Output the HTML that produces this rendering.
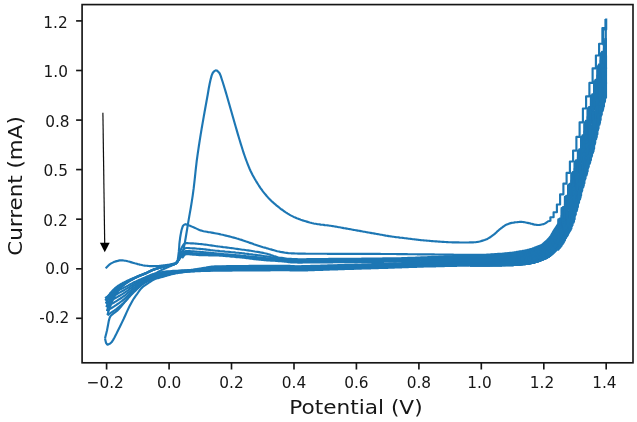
<!DOCTYPE html>
<html><head><meta charset="utf-8"><title>CV plot</title>
<style>
html,body{margin:0;padding:0;background:#fff;}
body{width:637px;height:422px;overflow:hidden;}
svg{display:block;}
text{font-family:"DejaVu Sans","Liberation Sans",sans-serif;fill:#151515;}
.tl text{font-size:16.7px;}
.al{font-size:20px;}
</style></head><body>
<svg width="637" height="422" viewBox="0 0 637 422">
<rect width="637" height="422" fill="#fff"/>
<defs><filter id="soft" x="-2%" y="-2%" width="104%" height="104%"><feGaussianBlur stdDeviation="0.42"/></filter></defs>
<g filter="url(#soft)">
<g fill="none" stroke="#1f77b4" stroke-width="2.15" stroke-linejoin="round" stroke-linecap="butt">
<path d="M105.7,268.4 L106.7,267.3 L107.7,266.3 L108.7,265.3 L109.7,264.4 L110.7,263.7 L111.7,263.1 L112.7,262.6 L113.7,262.1 L114.7,261.7 L115.7,261.4 L116.7,261.1 L117.7,260.9 L118.7,260.6 L119.7,260.4 L120.7,260.3 L121.7,260.3 L122.7,260.4 L123.7,260.5 L124.7,260.7 L125.7,260.8 L126.7,261.0 L127.7,261.3 L128.7,261.5 L129.7,261.8 L130.7,262.1 L131.7,262.4 L132.7,262.7 L133.7,263.0 L134.7,263.3 L135.7,263.5 L136.7,263.8 L137.7,264.1 L138.7,264.3 L139.7,264.6 L140.7,264.8 L141.7,265.0 L142.7,265.3 L143.7,265.5 L144.7,265.6 L145.7,265.7 L146.7,265.8 L147.7,265.9 L148.7,266.0 L149.7,266.1 L150.7,266.1 L151.7,266.1 L152.7,266.1 L153.7,266.1 L154.7,266.1 L155.7,266.0 L156.7,266.0 L157.7,266.0 L158.7,266.0 L159.7,265.9 L160.7,265.8 L161.7,265.6 L162.7,265.5 L163.7,265.3 L164.7,265.2 L165.7,265.1 L166.7,265.0 L167.7,264.8 L168.7,264.7 L169.7,264.5 L170.7,264.3 L171.7,264.1 L172.7,263.9 L173.7,263.6 L174.7,263.3 L175.7,262.9 L176.7,262.2 L177.7,261.3 L178.7,260.3 L179.7,258.9 L180.7,257.3 L181.7,255.3 L182.7,252.3 L183.7,248.3 L184.7,243.5 L185.7,237.8 L186.7,231.8 L187.7,225.6 L188.7,219.6 L189.7,213.9 L190.7,208.2 L191.7,202.1 L192.7,195.6 L193.7,188.2 L194.7,179.3 L195.7,169.8 L196.7,161.2 L197.7,153.9 L198.7,147.1 L199.7,140.6 L200.7,134.4 L201.7,128.4 L202.7,122.6 L203.7,116.9 L204.7,111.3 L205.7,105.8 L206.7,100.3 L207.7,94.7 L208.7,88.8 L209.7,83.5 L210.7,79.1 L211.7,75.4 L212.7,73.0 L213.7,71.8 L214.7,70.9 L215.7,70.4 L216.7,70.5 L217.7,71.2 L218.7,72.2 L219.7,73.5 L220.7,75.9 L221.7,79.0 L222.7,82.0 L223.7,85.2 L224.7,88.5 L225.7,91.9 L226.7,95.3 L227.7,98.8 L228.7,102.2 L229.7,105.7 L230.7,109.2 L231.7,112.7 L232.7,116.2 L233.7,119.7 L234.7,123.2 L235.7,126.7 L236.7,130.1 L237.7,133.6 L238.7,137.0 L239.7,140.3 L240.7,143.6 L241.7,146.8 L242.7,150.0 L243.7,153.1 L244.7,156.0 L245.7,158.8 L246.7,161.5 L247.7,164.1 L248.7,166.6 L249.7,169.0 L250.7,171.2 L251.7,173.2 L252.7,175.2 L253.7,177.0 L254.7,178.8 L255.7,180.5 L256.7,182.1 L257.7,183.7 L258.7,185.3 L259.7,186.8 L260.7,188.3 L261.7,189.7 L262.7,191.1 L263.7,192.4 L264.7,193.6 L265.7,194.8 L266.7,196.0 L267.7,197.1 L268.7,198.2 L269.7,199.2 L270.7,200.2 L271.7,201.2 L272.7,202.1 L273.7,203.0 L274.7,203.9 L275.7,204.7 L276.7,205.6 L277.7,206.4 L278.7,207.2 L279.7,208.0 L280.7,208.8 L281.7,209.5 L282.7,210.2 L283.7,211.0 L284.7,211.6 L285.7,212.3 L286.7,212.9 L287.7,213.6 L288.7,214.2 L289.7,214.8 L290.7,215.4 L291.7,215.9 L292.7,216.4 L293.7,216.9 L294.7,217.3 L295.7,217.7 L296.7,218.2 L297.7,218.5 L298.7,218.9 L299.7,219.3 L300.7,219.7 L301.7,220.0 L302.7,220.4 L303.7,220.7 L304.7,221.0 L305.7,221.3 L306.7,221.6 L307.7,221.9 L308.7,222.2 L309.7,222.5 L310.7,222.7 L311.7,223.0 L312.7,223.2 L313.7,223.5 L314.7,223.7 L315.7,223.8 L316.7,224.0 L317.7,224.2 L318.7,224.3 L319.7,224.4 L320.7,224.6 L321.7,224.7 L322.7,224.8 L323.7,224.9 L324.7,225.1 L325.7,225.2 L326.7,225.3 L327.7,225.4 L328.7,225.5 L329.7,225.7 L330.7,225.8 L331.7,226.0 L332.7,226.1 L333.7,226.3 L334.7,226.5 L335.7,226.6 L336.7,226.8 L337.7,227.0 L338.7,227.2 L339.7,227.3 L340.7,227.5 L341.7,227.7 L342.7,227.9 L343.7,228.1 L344.7,228.2 L345.7,228.4 L346.7,228.6 L347.7,228.8 L348.7,229.0 L349.7,229.1 L350.7,229.3 L351.7,229.5 L352.7,229.7 L353.7,229.9 L354.7,230.0 L355.7,230.2 L356.7,230.4 L357.7,230.6 L358.7,230.8 L359.7,230.9 L360.7,231.1 L361.7,231.3 L362.7,231.5 L363.7,231.7 L364.7,231.8 L365.7,232.0 L366.7,232.2 L367.7,232.4 L368.7,232.5 L369.7,232.7 L370.7,232.9 L371.7,233.1 L372.7,233.3 L373.7,233.4 L374.7,233.6 L375.7,233.8 L376.7,234.0 L377.7,234.1 L378.7,234.3 L379.7,234.5 L380.7,234.7 L381.7,234.8 L382.7,235.0 L383.7,235.2 L384.7,235.4 L385.7,235.6 L386.7,235.7 L387.7,235.9 L388.7,236.1 L389.7,236.3 L390.7,236.4 L391.7,236.5 L392.7,236.7 L393.7,236.8 L394.7,237.0 L395.7,237.1 L396.7,237.2 L397.7,237.3 L398.7,237.4 L399.7,237.6 L400.7,237.7 L401.7,237.8 L402.7,237.9 L403.7,238.0 L404.7,238.2 L405.7,238.3 L406.7,238.4 L407.7,238.5 L408.7,238.7 L409.7,238.8 L410.7,238.9 L411.7,239.0 L412.7,239.2 L413.7,239.3 L414.7,239.4 L415.7,239.5 L416.7,239.6 L417.7,239.8 L418.7,239.9 L419.7,240.0 L420.7,240.1 L421.7,240.2 L422.7,240.3 L423.7,240.4 L424.7,240.5 L425.7,240.5 L426.7,240.6 L427.7,240.7 L428.7,240.8 L429.7,240.9 L430.7,241.0 L431.7,241.1 L432.7,241.1 L433.7,241.2 L434.7,241.3 L435.7,241.3 L436.7,241.4 L437.7,241.5 L438.7,241.6 L439.7,241.6 L440.7,241.7 L441.7,241.8 L442.7,241.8 L443.7,241.9 L444.7,242.0 L445.7,242.0 L446.7,242.1 L447.7,242.1 L448.7,242.2 L449.7,242.2 L450.7,242.2 L451.7,242.3 L452.7,242.3 L453.7,242.3 L454.7,242.3 L455.7,242.4 L456.7,242.4 L457.7,242.4 L458.7,242.4 L459.7,242.5 L460.7,242.5 L461.7,242.5 L462.7,242.5 L463.7,242.5 L464.7,242.5 L465.7,242.5 L466.7,242.5 L467.7,242.5 L468.7,242.5 L469.7,242.4 L470.7,242.4 L471.7,242.4 L472.7,242.3 L473.7,242.3 L474.7,242.2 L475.7,242.2 L476.7,242.0 L477.7,241.9 L478.7,241.7 L479.7,241.5 L480.7,241.2 L481.7,240.9 L482.7,240.6 L483.7,240.3 L484.7,240.0 L485.7,239.6 L486.7,239.2 L487.7,238.7 L488.7,238.1 L489.7,237.5 L490.7,236.8 L491.7,236.1 L492.7,235.4 L493.7,234.7 L494.7,233.9 L495.7,233.0 L496.7,232.1 L497.7,231.1 L498.7,230.2 L499.7,229.3 L500.7,228.5 L501.7,227.8 L502.7,227.0 L503.7,226.3 L504.7,225.6 L505.7,225.0 L506.7,224.6 L507.7,224.2 L508.7,223.8 L509.7,223.4 L510.7,223.1 L511.7,222.9 L512.7,222.7 L513.7,222.6 L514.7,222.4 L515.7,222.3 L516.7,222.2 L517.7,222.1 L518.7,222.0 L519.7,221.9 L520.7,221.9 L521.7,221.9 L522.7,222.0 L523.7,222.1 L524.7,222.3 L525.7,222.5 L526.7,222.7 L527.7,222.9 L528.7,223.1 L529.7,223.3 L530.7,223.6 L531.7,223.8 L532.7,224.1 L533.7,224.4 L534.7,224.6 L535.7,224.8 L536.7,224.9 L537.7,225.0 L538.7,225.0 L539.7,224.9 L540.7,224.7 L541.7,224.5 L542.7,224.3 L543.7,224.1 L544.7,223.6 L545.7,223.0 L546.7,222.3 L547.7,221.5 L550.4,220.7 L550.4,217.2 L553.6,217.2 L553.6,212.2 L556.9,212.2 L556.9,204.5 L560.1,204.5 L560.1,194.3 L563.4,194.3 L563.4,183.6 L566.6,183.6 L566.6,172.9 L569.9,172.9 L569.9,161.5 L573.1,161.5 L573.1,150.6 L576.4,150.6 L576.4,136.9 L579.6,136.9 L579.6,122.3 L582.9,122.3 L582.9,108.5 L586.1,108.5 L586.1,96.4 L589.4,96.4 L589.4,82.9 L592.6,82.9 L592.6,68.3 L595.9,68.3 L595.9,55.5 L599.1,55.5 L599.1,43.7 L602.4,43.7 L602.4,28.1 L605.6,28.1 L605.6,19.0"/>
<path d="M105.0,338.4 L105.4,336.8 L105.8,335.3 L106.2,333.7 L106.6,332.1 L107.0,330.5 L107.3,328.9 L107.6,327.3 L107.9,325.7 L108.2,324.1 L108.5,322.5 L108.8,320.9 L109.2,319.4 L109.7,317.8 L110.4,316.3 L111.4,315.1 L112.7,314.1 L114.0,313.0 L115.3,312.1 L116.6,311.1 L117.8,310.1 L118.9,308.9 L120.0,307.7 L121.1,306.5 L122.1,305.2 L123.2,303.9 L124.2,302.7 L125.2,301.4 L126.3,300.2 L127.3,298.9 L128.3,297.6 L129.3,296.4 L130.3,295.1 L131.4,293.9 L132.5,292.7 L133.6,291.4 L134.6,290.2 L135.8,289.1 L136.9,287.9 L138.0,286.8 L139.2,285.6 L140.4,284.6 L141.7,283.5 L142.9,282.5 L144.2,281.4 L145.5,280.4 L146.7,279.4 L148.0,278.5 L149.4,277.5 L150.7,276.6 L152.1,275.7 L153.4,274.8 L154.8,273.9 L156.2,273.1 L157.6,272.2 L159.0,271.4 L160.4,270.7 L161.9,269.9 L163.3,269.2 L164.8,268.5 L166.3,267.9 L167.8,267.2 L169.3,266.6 L170.8,266.0 L172.2,265.3 L173.8,264.6 L175.2,263.9 L176.3,262.8 L177.1,261.3 L177.7,259.8 L178.0,258.3 L178.2,256.7 L178.4,255.1 L178.6,253.5 L178.8,251.9 L178.9,250.3 L179.1,248.6 L179.2,247.0 L179.3,245.3 L179.4,243.7 L179.6,242.0 L179.8,240.4 L180.0,238.8 L180.2,237.2 L180.5,235.5 L180.8,233.9 L181.1,232.3 L181.4,230.7 L181.8,229.2 L182.3,227.6 L182.9,226.0 L183.9,224.9 L185.4,224.2 L187.0,224.6 L188.5,225.2 L190.0,225.8 L191.5,226.4 L193.0,227.1 L194.5,227.7 L196.0,228.4 L197.5,229.1 L198.9,229.8 L200.5,230.4 L202.0,230.8 L203.5,231.2 L205.1,231.5 L206.7,231.8 L208.3,232.1 L210.0,232.3 L211.6,232.6 L213.2,232.9 L214.8,233.2 L216.4,233.5 L218.0,233.8 L219.6,234.1 L221.1,234.5 L222.7,234.8 L224.3,235.2 L225.9,235.6 L227.5,236.0 L229.1,236.4 L230.6,236.8 L232.2,237.2 L233.8,237.6 L235.3,238.0 L236.9,238.5 L238.5,238.9 L240.0,239.4 L241.6,239.9 L243.1,240.4 L244.6,240.9 L246.2,241.5 L247.7,242.0 L249.2,242.6 L250.8,243.1 L252.3,243.6 L253.8,244.2 L255.4,244.7 L256.9,245.2 L258.4,245.7 L260.0,246.2 L261.5,246.7 L263.1,247.2 L264.7,247.6 L266.2,248.1 L267.8,248.5 L269.3,249.0 L270.9,249.4 L272.5,249.9 L274.0,250.3 L275.6,250.7 L277.2,251.2 L278.8,251.5 L280.3,251.9 L281.9,252.1 L283.5,252.4 L285.1,252.7 L286.8,252.9 L288.4,253.1 L290.0,253.2 L291.0,253.3 L292.0,253.3 L293.0,253.4 L294.0,253.4 L295.0,253.5 L296.0,253.5 L297.0,253.5 L298.0,253.6 L299.0,253.6 L300.0,253.6 L301.0,253.6 L302.0,253.6 L303.0,253.6 L304.0,253.6 L305.0,253.6 L306.0,253.7 L307.0,253.7 L308.0,253.7 L309.0,253.7 L310.0,253.7 L311.0,253.7 L312.0,253.7 L313.0,253.7 L314.0,253.7 L315.0,253.7 L316.0,253.7 L317.0,253.7 L318.0,253.7 L319.0,253.7 L320.0,253.7 L321.0,253.7 L322.0,253.7 L323.0,253.7 L324.0,253.7 L325.0,253.7 L326.0,253.7 L327.0,253.8 L328.0,253.8 L329.0,253.8 L330.0,253.8 L331.0,253.8 L332.0,253.8 L333.0,253.8 L334.0,253.8 L335.0,253.8 L336.0,253.8 L337.0,253.8 L338.0,253.8 L339.0,253.8 L340.0,253.8 L341.0,253.8 L342.0,253.8 L343.0,253.8 L344.0,253.8 L345.0,253.8 L346.0,253.8 L347.0,253.8 L348.0,253.8 L349.0,253.8 L350.0,253.8 L351.0,253.8 L352.0,253.8 L353.0,253.8 L354.0,253.9 L355.0,253.9 L356.0,253.9 L357.0,253.9 L358.0,253.9 L359.0,253.9 L360.0,253.9 L361.0,253.9 L362.0,253.9 L363.0,253.9 L364.0,253.9 L365.0,253.9 L366.0,253.9 L367.0,253.9 L368.0,253.9 L369.0,253.9 L370.0,253.9 L371.0,253.9 L372.0,253.9 L373.0,253.9 L374.0,253.9 L375.0,253.9 L376.0,253.9 L377.0,253.9 L378.0,253.9 L379.0,253.9 L380.0,253.9 L381.0,254.0 L382.0,254.0 L383.0,254.0 L384.0,254.0 L385.0,254.0 L386.0,254.0 L387.0,254.0 L388.0,254.0 L389.0,254.0 L390.0,254.0 L391.0,254.0 L392.0,254.0 L393.0,254.0 L394.0,254.0 L395.0,254.0 L396.0,254.0 L397.0,254.1 L398.0,254.1 L399.0,254.1 L400.0,254.1 L401.0,254.1 L402.0,254.1 L403.0,254.1 L404.0,254.1 L405.0,254.1 L406.0,254.1 L407.0,254.1 L408.0,254.2 L409.0,254.2 L410.0,254.2 L411.0,254.2 L412.0,254.2 L413.0,254.2 L414.0,254.2 L415.0,254.2 L416.0,254.2 L417.0,254.3 L418.0,254.3 L419.0,254.3 L420.0,254.3 L421.0,254.3 L422.0,254.3 L423.0,254.3 L424.0,254.3 L425.0,254.3 L426.0,254.4 L427.0,254.4 L428.0,254.4 L429.0,254.4 L430.0,254.4 L431.0,254.4 L432.0,254.4 L433.0,254.4 L434.0,254.4 L435.0,254.5 L436.0,254.5 L437.0,254.5 L438.0,254.5 L439.0,254.5 L440.0,254.5 L441.0,254.5 L442.0,254.5 L443.0,254.5 L444.0,254.6 L445.0,254.6 L446.0,254.6 L447.0,254.6 L448.0,254.6 L449.0,254.6 L450.0,254.6 L451.0,254.6 L452.0,254.6 L453.0,254.6 L454.0,254.7 L455.0,254.7 L456.0,254.7 L457.0,254.7 L458.0,254.7 L459.0,254.7 L460.0,254.7 L461.0,254.7 L462.0,254.7 L463.0,254.7 L464.0,254.7 L465.0,254.7 L466.0,254.7 L467.0,254.7 L468.0,254.8 L469.0,254.8 L470.0,254.8 L471.0,254.8 L472.0,254.8 L473.0,254.8 L474.0,254.8 L475.0,254.8 L476.0,254.8 L477.0,254.8 L478.0,254.8 L479.0,254.8 L480.0,254.8 L481.0,254.8 L482.0,254.8 L483.0,254.8 L484.0,254.7 L485.0,254.7 L486.0,254.7 L487.0,254.6 L488.0,254.6 L489.0,254.5 L490.0,254.5 L491.0,254.4 L492.0,254.3 L493.0,254.3 L494.0,254.2 L495.0,254.1 L496.0,254.1 L497.0,254.0 L498.0,253.9 L499.0,253.9 L500.0,253.8 L501.0,253.7 L502.0,253.7 L503.0,253.6 L504.0,253.5 L505.0,253.4 L506.0,253.3 L507.0,253.2 L508.0,253.1 L509.0,253.0 L510.0,252.9 L511.0,252.8 L512.0,252.7 L513.0,252.5 L514.0,252.4 L515.0,252.2 L516.0,252.1 L517.0,251.9 L518.0,251.8 L519.0,251.6 L520.0,251.4 L521.0,251.2 L522.0,251.1 L523.0,250.9 L524.0,250.7 L525.0,250.5 L526.0,250.3 L527.0,250.1 L528.0,249.8 L529.0,249.6 L530.0,249.3 L531.0,249.0 L532.0,248.7 L533.0,248.3 L534.0,248.0 L535.0,247.6 L536.0,247.2 L537.0,246.8 L538.0,246.4 L539.0,246.1 L540.0,245.6 L541.0,245.2 L542.0,244.6 L543.0,243.9 L544.0,243.0 L545.0,242.1 L546.0,241.2 L547.0,240.3 L548.0,239.3 L549.0,238.3 L550.0,237.0 L551.0,235.6 L552.0,233.9 L553.0,232.1 L554.0,230.4 L555.0,228.9 L556.0,227.4 L557.0,225.9 L558.0,224.0 L558.4,226.2 L558.4,219.3 L561.6,219.3 L561.6,208.1 L564.9,208.1 L564.9,196.8 L568.1,196.8 L568.1,185.1 L571.4,185.1 L571.4,173.2 L574.6,173.2 L574.6,161.5 L577.9,161.5 L577.9,150.5 L581.1,150.5 L581.1,136.9 L584.4,136.9 L584.4,122.3 L587.6,122.3 L587.6,108.3 L590.9,108.3 L590.9,95.6 L594.1,95.6 L594.1,81.3 L597.4,81.3 L597.4,66.2 L600.6,66.2 L600.6,53.3 L603.9,53.3 L603.9,40.3"/>
<path d="M107.4,315.0 L107.8,313.7 L108.2,312.3 L108.6,311.0 L109.0,309.7 L109.5,308.4 L109.9,307.1 L110.4,305.8 L110.9,304.5 L111.4,303.2 L111.9,301.9 L112.5,300.6 L113.1,299.4 L113.7,298.1 L114.3,296.9 L115.0,295.7 L115.7,294.5 L116.4,293.3 L117.2,292.2 L118.0,291.0 L118.9,290.0 L119.8,288.9 L120.8,287.9 L121.7,286.9 L122.8,286.0 L123.8,285.1 L124.9,284.2 L126.0,283.4 L127.2,282.6 L128.3,281.8 L129.5,281.1 L130.7,280.4 L131.9,279.7 L133.1,279.0 L134.3,278.4 L135.5,277.7 L136.8,277.1 L138.0,276.5 L139.3,276.0 L140.6,275.4 L141.9,274.9 L143.2,274.4 L144.4,273.9 L145.7,273.3 L147.0,272.7 L148.2,272.1 L149.5,271.5 L150.7,270.9 L152.0,270.3 L153.2,269.8 L154.5,269.3 L155.8,268.9 L157.2,268.5 L158.5,268.1 L159.8,267.7 L161.2,267.3 L162.5,266.9 L163.9,266.6 L165.2,266.3 L166.5,265.9 L167.9,265.6 L169.3,265.4 L170.6,265.1 L172.0,264.7 L173.3,264.4 L174.7,264.0 L175.9,263.4 L176.9,262.5 L177.8,261.3 L178.3,260.1 L178.7,258.9 L179.0,257.5 L179.3,256.1 L179.5,254.7 L179.8,253.3 L180.1,251.9 L180.5,250.6 L181.0,249.3 L181.6,248.0 L182.2,246.8 L182.9,245.6 L183.7,244.4 L184.7,243.6 L186.1,243.1 L187.5,243.1 L188.8,243.2 L190.2,243.3 L191.6,243.3 L193.0,243.4 L194.4,243.5 L195.8,243.6 L197.1,243.7 L198.5,243.9 L199.9,244.0 L201.3,244.1 L202.7,244.3 L204.0,244.5 L205.4,244.6 L206.8,244.8 L208.1,245.0 L209.5,245.2 L210.9,245.4 L212.3,245.6 L213.6,245.8 L215.0,246.0 L216.4,246.2 L217.8,246.4 L219.1,246.5 L220.5,246.7 L221.9,246.9 L223.3,247.1 L224.6,247.2 L226.0,247.4 L227.4,247.6 L228.8,247.8 L230.1,248.0 L231.5,248.1 L232.9,248.3 L234.3,248.5 L235.6,248.7 L237.0,248.9 L238.4,249.1 L239.7,249.3 L241.1,249.5 L242.5,249.7 L243.9,249.8 L245.2,250.0 L246.6,250.2 L248.0,250.4 L249.4,250.6 L250.7,250.8 L252.1,251.0 L253.5,251.2 L254.9,251.5 L256.2,251.7 L257.6,251.9 L259.0,252.1 L260.3,252.4 L261.7,252.6 L263.0,252.9 L264.4,253.2 L265.7,253.5 L267.1,253.8 L268.4,254.2 L269.7,254.6 L271.0,255.1 L272.4,255.5 L273.7,256.0 L275.0,256.4 L276.3,256.8 L277.7,257.2 L279.0,257.5 L280.4,257.7 L281.7,257.9 L283.1,258.1 L284.5,258.3 L285.8,258.5 L287.2,258.7 L288.6,258.8 L290.0,258.9 L291.0,258.9 L292.0,259.0 L293.0,259.0 L294.0,259.1 L295.0,259.1 L296.0,259.1 L297.0,259.1 L298.0,259.2 L299.0,259.2 L300.0,259.2 L301.0,259.2 L302.0,259.2 L303.0,259.2 L304.0,259.2 L305.0,259.2 L306.0,259.2 L307.0,259.1 L308.0,259.1 L309.0,259.1 L310.0,259.1 L311.0,259.1 L312.0,259.1 L313.0,259.1 L314.0,259.1 L315.0,259.1 L316.0,259.1 L317.0,259.1 L318.0,259.1 L319.0,259.0 L320.0,259.0 L321.0,259.0 L322.0,259.0 L323.0,259.0 L324.0,259.0 L325.0,259.0 L326.0,259.0 L327.0,259.0 L328.0,259.0 L329.0,258.9 L330.0,258.9 L331.0,258.9 L332.0,258.9 L333.0,258.9 L334.0,258.9 L335.0,258.9 L336.0,258.9 L337.0,258.9 L338.0,258.9 L339.0,258.9 L340.0,258.8 L341.0,258.8 L342.0,258.8 L343.0,258.8 L344.0,258.8 L345.0,258.8 L346.0,258.8 L347.0,258.8 L348.0,258.8 L349.0,258.8 L350.0,258.8 L351.0,258.7 L352.0,258.7 L353.0,258.7 L354.0,258.7 L355.0,258.7 L356.0,258.7 L357.0,258.7 L358.0,258.7 L359.0,258.7 L360.0,258.7 L361.0,258.7 L362.0,258.6 L363.0,258.6 L364.0,258.6 L365.0,258.6 L366.0,258.6 L367.0,258.6 L368.0,258.6 L369.0,258.6 L370.0,258.6 L371.0,258.6 L372.0,258.5 L373.0,258.5 L374.0,258.5 L375.0,258.5 L376.0,258.5 L377.0,258.5 L378.0,258.5 L379.0,258.5 L380.0,258.5 L381.0,258.5 L382.0,258.5 L383.0,258.4 L384.0,258.4 L385.0,258.4 L386.0,258.4 L387.0,258.4 L388.0,258.4 L389.0,258.4 L390.0,258.4 L391.0,258.4 L392.0,258.4 L393.0,258.3 L394.0,258.3 L395.0,258.3 L396.0,258.3 L397.0,258.3 L398.0,258.2 L399.0,258.2 L400.0,258.2 L401.0,258.2 L402.0,258.1 L403.0,258.1 L404.0,258.1 L405.0,258.0 L406.0,258.0 L407.0,258.0 L408.0,257.9 L409.0,257.9 L410.0,257.9 L411.0,257.8 L412.0,257.8 L413.0,257.8 L414.0,257.7 L415.0,257.7 L416.0,257.6 L417.0,257.6 L418.0,257.5 L419.0,257.5 L420.0,257.5 L421.0,257.4 L422.0,257.4 L423.0,257.3 L424.0,257.3 L425.0,257.2 L426.0,257.2 L427.0,257.2 L428.0,257.1 L429.0,257.1 L430.0,257.0 L431.0,257.0 L432.0,256.9 L433.0,256.9 L434.0,256.9 L435.0,256.8 L436.0,256.8 L437.0,256.7 L438.0,256.7 L439.0,256.6 L440.0,256.6 L441.0,256.6 L442.0,256.5 L443.0,256.5 L444.0,256.5 L445.0,256.4 L446.0,256.4 L447.0,256.3 L448.0,256.3 L449.0,256.3 L450.0,256.2 L451.0,256.2 L452.0,256.2 L453.0,256.1 L454.0,256.1 L455.0,256.1 L456.0,256.0 L457.0,256.0 L458.0,256.0 L459.0,256.0 L460.0,255.9 L461.0,255.9 L462.0,255.9 L463.0,255.9 L464.0,255.8 L465.0,255.8 L466.0,255.8 L467.0,255.8 L468.0,255.8 L469.0,255.8 L470.0,255.8 L471.0,255.7 L472.0,255.7 L473.0,255.7 L474.0,255.7 L475.0,255.7 L476.0,255.7 L477.0,255.7 L478.0,255.7 L479.0,255.7 L480.0,255.7 L481.0,255.7 L482.0,255.7 L483.0,255.7 L484.0,255.6 L485.0,255.6 L486.0,255.6 L487.0,255.5 L488.0,255.5 L489.0,255.4 L490.0,255.4 L491.0,255.3 L492.0,255.3 L493.0,255.2 L494.0,255.1 L495.0,255.1 L496.0,255.0 L497.0,255.0 L498.0,254.9 L499.0,254.8 L500.0,254.8 L501.0,254.7 L502.0,254.6 L503.0,254.6 L504.0,254.5 L505.0,254.4 L506.0,254.3 L507.0,254.2 L508.0,254.1 L509.0,254.0 L510.0,253.9 L511.0,253.8 L512.0,253.7 L513.0,253.6 L514.0,253.4 L515.0,253.3 L516.0,253.2 L517.0,253.0 L518.0,252.8 L519.0,252.7 L520.0,252.5 L521.0,252.4 L522.0,252.2 L523.0,252.0 L524.0,251.8 L525.0,251.7 L526.0,251.5 L527.0,251.2 L528.0,251.0 L529.0,250.8 L530.0,250.5 L531.0,250.2 L532.0,249.9 L533.0,249.6 L534.0,249.2 L535.0,248.8 L536.0,248.4 L537.0,248.1 L538.0,247.7 L539.0,247.3 L540.0,246.9 L541.0,246.5 L542.0,245.9 L543.0,245.3 L544.0,244.5 L545.0,243.7 L546.0,242.8 L547.0,241.8 L548.0,240.9 L549.0,239.9 L550.0,238.8 L551.0,237.5 L552.0,236.0 L553.0,234.3 L554.0,232.5 L555.0,230.8 L556.0,229.3 L557.0,227.8 L558.0,226.2 L559.8,226.0 L559.8,218.5 L563.0,218.5 L563.0,207.0 L566.3,207.0 L566.3,195.7 L569.5,195.7 L569.5,183.9 L572.8,183.9 L572.8,172.0 L576.0,172.0 L576.0,160.4 L579.3,160.4 L579.3,149.4 L582.5,149.4 L582.5,135.4 L585.8,135.4 L585.8,120.9 L589.0,120.9 L589.0,107.1 L592.3,107.1 L592.3,94.3 L595.5,94.3 L595.5,79.7 L598.8,79.7 L598.8,64.7 L602.0,64.7 L602.0,51.8 L605.3,51.8 L605.3,38.2"/>
<path d="M106.9,311.0 L107.3,309.7 L107.7,308.5 L108.2,307.2 L108.7,306.0 L109.2,304.7 L109.7,303.5 L110.3,302.3 L110.8,301.1 L111.4,299.9 L112.0,298.7 L112.7,297.5 L113.4,296.4 L114.1,295.2 L114.8,294.1 L115.5,293.0 L116.3,291.9 L117.2,290.9 L118.0,289.9 L118.9,288.9 L119.9,288.0 L120.9,287.0 L121.9,286.2 L122.9,285.3 L124.0,284.5 L125.1,283.8 L126.2,283.0 L127.3,282.3 L128.5,281.6 L129.6,280.9 L130.8,280.2 L131.9,279.6 L133.1,279.0 L134.3,278.3 L135.5,277.8 L136.7,277.2 L137.9,276.6 L139.1,276.1 L140.4,275.5 L141.6,275.0 L142.8,274.5 L144.1,274.0 L145.3,273.5 L146.5,273.0 L147.7,272.4 L148.9,271.8 L150.1,271.2 L151.3,270.6 L152.6,270.1 L153.8,269.6 L155.1,269.2 L156.3,268.7 L157.6,268.3 L158.9,268.0 L160.2,267.6 L161.5,267.2 L162.7,266.9 L164.0,266.6 L165.3,266.2 L166.6,265.9 L167.9,265.6 L169.2,265.4 L170.6,265.1 L171.8,264.8 L173.2,264.4 L174.5,264.1 L175.7,263.6 L176.7,262.8 L177.5,261.6 L178.2,260.5 L178.6,259.2 L179.0,257.9 L179.2,256.5 L179.5,255.1 L179.9,253.8 L180.4,252.8 L181.4,252.0 L182.5,251.2 L183.3,250.0 L184.1,248.9 L185.2,248.3 L186.5,248.0 L187.8,248.0 L189.2,248.1 L190.5,248.2 L191.9,248.3 L193.2,248.3 L194.5,248.4 L195.9,248.5 L197.2,248.7 L198.5,248.8 L199.8,248.9 L201.2,249.0 L202.5,249.1 L203.8,249.3 L205.2,249.4 L206.5,249.6 L207.8,249.8 L209.1,249.9 L210.5,250.1 L211.8,250.2 L213.1,250.4 L214.4,250.5 L215.8,250.7 L217.1,250.8 L218.4,250.9 L219.8,251.1 L221.1,251.2 L222.4,251.3 L223.8,251.4 L225.1,251.6 L226.4,251.7 L227.7,251.8 L229.1,251.9 L230.4,252.0 L231.7,252.2 L233.1,252.3 L234.4,252.4 L235.7,252.6 L237.0,252.7 L238.4,252.8 L239.7,253.0 L241.0,253.1 L242.4,253.3 L243.7,253.4 L245.0,253.6 L246.3,253.7 L247.7,253.9 L249.0,254.1 L250.3,254.2 L251.6,254.4 L253.0,254.6 L254.3,254.7 L255.6,254.9 L256.9,255.1 L258.3,255.3 L259.6,255.4 L260.9,255.6 L262.2,255.8 L263.6,256.0 L264.9,256.2 L266.2,256.4 L267.5,256.6 L268.8,256.8 L270.2,257.0 L271.5,257.2 L272.8,257.4 L274.1,257.6 L275.4,257.9 L276.8,258.1 L278.1,258.3 L279.4,258.5 L280.7,258.6 L282.0,258.8 L283.4,259.0 L284.7,259.1 L286.0,259.3 L287.3,259.4 L288.7,259.6 L290.0,259.7 L291.0,259.8 L292.0,259.8 L293.0,259.9 L294.0,259.9 L295.0,259.9 L296.0,260.0 L297.0,260.0 L298.0,260.0 L299.0,260.0 L300.0,260.0 L301.0,260.0 L302.0,260.0 L303.0,260.0 L304.0,260.0 L305.0,260.0 L306.0,260.0 L307.0,260.0 L308.0,260.0 L309.0,260.0 L310.0,260.0 L311.0,259.9 L312.0,259.9 L313.0,259.9 L314.0,259.9 L315.0,259.9 L316.0,259.9 L317.0,259.9 L318.0,259.9 L319.0,259.9 L320.0,259.9 L321.0,259.8 L322.0,259.8 L323.0,259.8 L324.0,259.8 L325.0,259.8 L326.0,259.8 L327.0,259.8 L328.0,259.8 L329.0,259.8 L330.0,259.8 L331.0,259.7 L332.0,259.7 L333.0,259.7 L334.0,259.7 L335.0,259.7 L336.0,259.7 L337.0,259.7 L338.0,259.7 L339.0,259.7 L340.0,259.7 L341.0,259.6 L342.0,259.6 L343.0,259.6 L344.0,259.6 L345.0,259.6 L346.0,259.6 L347.0,259.6 L348.0,259.6 L349.0,259.6 L350.0,259.6 L351.0,259.6 L352.0,259.5 L353.0,259.5 L354.0,259.5 L355.0,259.5 L356.0,259.5 L357.0,259.5 L358.0,259.5 L359.0,259.5 L360.0,259.5 L361.0,259.5 L362.0,259.5 L363.0,259.4 L364.0,259.4 L365.0,259.4 L366.0,259.4 L367.0,259.4 L368.0,259.4 L369.0,259.4 L370.0,259.4 L371.0,259.4 L372.0,259.4 L373.0,259.4 L374.0,259.3 L375.0,259.3 L376.0,259.3 L377.0,259.3 L378.0,259.3 L379.0,259.3 L380.0,259.3 L381.0,259.3 L382.0,259.3 L383.0,259.3 L384.0,259.3 L385.0,259.2 L386.0,259.2 L387.0,259.2 L388.0,259.2 L389.0,259.2 L390.0,259.2 L391.0,259.2 L392.0,259.2 L393.0,259.2 L394.0,259.2 L395.0,259.1 L396.0,259.1 L397.0,259.1 L398.0,259.1 L399.0,259.1 L400.0,259.0 L401.0,259.0 L402.0,259.0 L403.0,258.9 L404.0,258.9 L405.0,258.9 L406.0,258.8 L407.0,258.8 L408.0,258.8 L409.0,258.7 L410.0,258.7 L411.0,258.7 L412.0,258.6 L413.0,258.6 L414.0,258.6 L415.0,258.5 L416.0,258.5 L417.0,258.4 L418.0,258.4 L419.0,258.4 L420.0,258.3 L421.0,258.3 L422.0,258.2 L423.0,258.2 L424.0,258.1 L425.0,258.1 L426.0,258.1 L427.0,258.0 L428.0,258.0 L429.0,257.9 L430.0,257.9 L431.0,257.8 L432.0,257.8 L433.0,257.8 L434.0,257.7 L435.0,257.7 L436.0,257.6 L437.0,257.6 L438.0,257.6 L439.0,257.5 L440.0,257.5 L441.0,257.4 L442.0,257.4 L443.0,257.4 L444.0,257.3 L445.0,257.3 L446.0,257.3 L447.0,257.2 L448.0,257.2 L449.0,257.2 L450.0,257.1 L451.0,257.1 L452.0,257.1 L453.0,257.0 L454.0,257.0 L455.0,257.0 L456.0,256.9 L457.0,256.9 L458.0,256.9 L459.0,256.9 L460.0,256.8 L461.0,256.8 L462.0,256.8 L463.0,256.8 L464.0,256.7 L465.0,256.7 L466.0,256.7 L467.0,256.7 L468.0,256.7 L469.0,256.7 L470.0,256.6 L471.0,256.6 L472.0,256.6 L473.0,256.6 L474.0,256.6 L475.0,256.6 L476.0,256.6 L477.0,256.6 L478.0,256.6 L479.0,256.6 L480.0,256.6 L481.0,256.6 L482.0,256.6 L483.0,256.6 L484.0,256.5 L485.0,256.5 L486.0,256.5 L487.0,256.4 L488.0,256.4 L489.0,256.3 L490.0,256.3 L491.0,256.2 L492.0,256.2 L493.0,256.1 L494.0,256.1 L495.0,256.0 L496.0,256.0 L497.0,255.9 L498.0,255.8 L499.0,255.8 L500.0,255.7 L501.0,255.7 L502.0,255.6 L503.0,255.5 L504.0,255.5 L505.0,255.4 L506.0,255.3 L507.0,255.2 L508.0,255.1 L509.0,255.1 L510.0,255.0 L511.0,254.9 L512.0,254.8 L513.0,254.6 L514.0,254.5 L515.0,254.4 L516.0,254.2 L517.0,254.1 L518.0,253.9 L519.0,253.8 L520.0,253.6 L521.0,253.5 L522.0,253.3 L523.0,253.2 L524.0,253.0 L525.0,252.8 L526.0,252.6 L527.0,252.4 L528.0,252.2 L529.0,252.0 L530.0,251.7 L531.0,251.4 L532.0,251.1 L533.0,250.8 L534.0,250.4 L535.0,250.1 L536.0,249.7 L537.0,249.3 L538.0,248.9 L539.0,248.5 L540.0,248.2 L541.0,247.7 L542.0,247.2 L543.0,246.7 L544.0,246.0 L545.0,245.2 L546.0,244.3 L547.0,243.4 L548.0,242.4 L549.0,241.5 L550.0,240.5 L551.0,239.3 L552.0,238.0 L553.0,236.5 L554.0,234.8 L555.0,232.9 L556.0,231.3 L557.0,229.7 L558.0,228.2 L558.5,230.0 L558.5,224.5 L561.7,224.5 L561.7,215.8 L565.0,215.8 L565.0,203.8 L568.2,203.8 L568.2,192.6 L571.5,192.6 L571.5,180.5 L574.7,180.5 L574.7,168.8 L578.0,168.8 L578.0,157.4 L581.2,157.4 L581.2,145.9 L584.5,145.9 L584.5,131.3 L587.7,131.3 L587.7,116.9 L591.0,116.9 L591.0,103.4 L594.2,103.4 L594.2,90.3 L597.5,90.3 L597.5,75.2 L600.7,75.2 L600.7,60.6 L604.0,60.6 L604.0,48.0"/>
<path d="M106.3,307.0 L106.8,305.8 L107.3,304.6 L107.9,303.4 L108.4,302.2 L109.0,301.1 L109.6,299.9 L110.3,298.8 L110.9,297.6 L111.6,296.5 L112.3,295.4 L113.0,294.3 L113.8,293.3 L114.6,292.2 L115.5,291.2 L116.3,290.2 L117.2,289.3 L118.1,288.4 L119.1,287.5 L120.1,286.7 L121.2,285.9 L122.2,285.1 L123.3,284.3 L124.4,283.6 L125.5,282.9 L126.6,282.3 L127.7,281.6 L128.9,281.0 L130.0,280.4 L131.2,279.7 L132.3,279.1 L133.5,278.6 L134.7,278.0 L135.9,277.4 L137.1,276.9 L138.3,276.4 L139.5,275.9 L140.7,275.4 L141.9,274.9 L143.1,274.4 L144.3,273.9 L145.5,273.4 L146.7,272.9 L147.9,272.3 L149.1,271.7 L150.3,271.1 L151.4,270.6 L152.6,270.1 L153.8,269.6 L155.1,269.2 L156.3,268.7 L157.6,268.4 L158.8,268.0 L160.1,267.6 L161.3,267.3 L162.6,266.9 L163.9,266.6 L165.1,266.3 L166.4,266.0 L167.7,265.7 L169.0,265.4 L170.2,265.2 L171.5,264.9 L172.8,264.5 L174.1,264.2 L175.3,263.8 L176.3,263.1 L177.2,262.1 L178.0,260.9 L178.5,259.7 L178.9,258.2 L179.2,256.5 L179.5,255.1 L179.9,254.1 L180.6,254.0 L182.1,254.2 L183.1,253.8 L183.8,252.5 L184.6,251.5 L185.9,251.1 L187.2,251.0 L188.5,251.1 L189.8,251.1 L191.1,251.2 L192.4,251.3 L193.7,251.4 L195.0,251.5 L196.3,251.6 L197.6,251.7 L198.9,251.8 L200.2,251.9 L201.5,252.0 L202.8,252.1 L204.1,252.3 L205.4,252.4 L206.7,252.5 L208.0,252.6 L209.4,252.8 L210.7,252.9 L212.0,253.0 L213.3,253.1 L214.6,253.3 L215.9,253.4 L217.2,253.5 L218.5,253.6 L219.8,253.7 L221.1,253.8 L222.4,253.9 L223.7,254.1 L225.0,254.2 L226.3,254.3 L227.6,254.4 L228.9,254.5 L230.2,254.6 L231.5,254.7 L232.8,254.8 L234.1,255.0 L235.4,255.1 L236.7,255.2 L238.0,255.3 L239.3,255.4 L240.6,255.6 L241.9,255.7 L243.2,255.8 L244.5,255.9 L245.8,256.1 L247.1,256.2 L248.4,256.3 L249.7,256.5 L251.0,256.6 L252.3,256.7 L253.6,256.9 L254.9,257.0 L256.2,257.1 L257.5,257.3 L258.8,257.4 L260.1,257.5 L261.4,257.6 L262.7,257.8 L264.0,257.9 L265.3,258.0 L266.6,258.2 L267.9,258.3 L269.2,258.4 L270.5,258.5 L271.8,258.6 L273.1,258.7 L274.4,258.9 L275.7,259.0 L277.0,259.1 L278.3,259.2 L279.6,259.4 L280.9,259.5 L282.2,259.7 L283.5,259.8 L284.8,260.0 L286.1,260.1 L287.4,260.3 L288.7,260.4 L290.0,260.6 L291.0,260.7 L292.0,260.7 L293.0,260.7 L294.0,260.8 L295.0,260.8 L296.0,260.8 L297.0,260.8 L298.0,260.9 L299.0,260.9 L300.0,260.9 L301.0,260.9 L302.0,260.9 L303.0,260.9 L304.0,260.9 L305.0,260.8 L306.0,260.8 L307.0,260.8 L308.0,260.8 L309.0,260.8 L310.0,260.8 L311.0,260.8 L312.0,260.8 L313.0,260.8 L314.0,260.8 L315.0,260.8 L316.0,260.7 L317.0,260.7 L318.0,260.7 L319.0,260.7 L320.0,260.7 L321.0,260.7 L322.0,260.7 L323.0,260.7 L324.0,260.7 L325.0,260.7 L326.0,260.6 L327.0,260.6 L328.0,260.6 L329.0,260.6 L330.0,260.6 L331.0,260.6 L332.0,260.6 L333.0,260.6 L334.0,260.6 L335.0,260.5 L336.0,260.5 L337.0,260.5 L338.0,260.5 L339.0,260.5 L340.0,260.5 L341.0,260.5 L342.0,260.5 L343.0,260.5 L344.0,260.5 L345.0,260.5 L346.0,260.4 L347.0,260.4 L348.0,260.4 L349.0,260.4 L350.0,260.4 L351.0,260.4 L352.0,260.4 L353.0,260.4 L354.0,260.4 L355.0,260.4 L356.0,260.4 L357.0,260.3 L358.0,260.3 L359.0,260.3 L360.0,260.3 L361.0,260.3 L362.0,260.3 L363.0,260.3 L364.0,260.3 L365.0,260.3 L366.0,260.3 L367.0,260.3 L368.0,260.2 L369.0,260.2 L370.0,260.2 L371.0,260.2 L372.0,260.2 L373.0,260.2 L374.0,260.2 L375.0,260.2 L376.0,260.2 L377.0,260.2 L378.0,260.2 L379.0,260.1 L380.0,260.1 L381.0,260.1 L382.0,260.1 L383.0,260.1 L384.0,260.1 L385.0,260.1 L386.0,260.1 L387.0,260.1 L388.0,260.0 L389.0,260.0 L390.0,260.0 L391.0,260.0 L392.0,260.0 L393.0,260.0 L394.0,260.0 L395.0,259.9 L396.0,259.9 L397.0,259.9 L398.0,259.9 L399.0,259.9 L400.0,259.8 L401.0,259.8 L402.0,259.8 L403.0,259.7 L404.0,259.7 L405.0,259.7 L406.0,259.7 L407.0,259.6 L408.0,259.6 L409.0,259.5 L410.0,259.5 L411.0,259.5 L412.0,259.4 L413.0,259.4 L414.0,259.4 L415.0,259.3 L416.0,259.3 L417.0,259.2 L418.0,259.2 L419.0,259.2 L420.0,259.1 L421.0,259.1 L422.0,259.0 L423.0,259.0 L424.0,259.0 L425.0,258.9 L426.0,258.9 L427.0,258.8 L428.0,258.8 L429.0,258.8 L430.0,258.7 L431.0,258.7 L432.0,258.6 L433.0,258.6 L434.0,258.6 L435.0,258.5 L436.0,258.5 L437.0,258.5 L438.0,258.4 L439.0,258.4 L440.0,258.3 L441.0,258.3 L442.0,258.3 L443.0,258.2 L444.0,258.2 L445.0,258.2 L446.0,258.1 L447.0,258.1 L448.0,258.1 L449.0,258.0 L450.0,258.0 L451.0,258.0 L452.0,257.9 L453.0,257.9 L454.0,257.9 L455.0,257.8 L456.0,257.8 L457.0,257.8 L458.0,257.8 L459.0,257.7 L460.0,257.7 L461.0,257.7 L462.0,257.7 L463.0,257.6 L464.0,257.6 L465.0,257.6 L466.0,257.6 L467.0,257.6 L468.0,257.6 L469.0,257.5 L470.0,257.5 L471.0,257.5 L472.0,257.5 L473.0,257.5 L474.0,257.5 L475.0,257.5 L476.0,257.5 L477.0,257.5 L478.0,257.5 L479.0,257.5 L480.0,257.5 L481.0,257.5 L482.0,257.5 L483.0,257.4 L484.0,257.4 L485.0,257.4 L486.0,257.4 L487.0,257.3 L488.0,257.3 L489.0,257.3 L490.0,257.2 L491.0,257.2 L492.0,257.1 L493.0,257.1 L494.0,257.0 L495.0,257.0 L496.0,256.9 L497.0,256.8 L498.0,256.8 L499.0,256.7 L500.0,256.7 L501.0,256.6 L502.0,256.6 L503.0,256.5 L504.0,256.4 L505.0,256.4 L506.0,256.3 L507.0,256.2 L508.0,256.2 L509.0,256.1 L510.0,256.0 L511.0,255.9 L512.0,255.8 L513.0,255.7 L514.0,255.6 L515.0,255.4 L516.0,255.3 L517.0,255.2 L518.0,255.0 L519.0,254.9 L520.0,254.7 L521.0,254.6 L522.0,254.4 L523.0,254.3 L524.0,254.1 L525.0,253.9 L526.0,253.8 L527.0,253.6 L528.0,253.4 L529.0,253.1 L530.0,252.9 L531.0,252.6 L532.0,252.3 L533.0,252.0 L534.0,251.7 L535.0,251.3 L536.0,250.9 L537.0,250.6 L538.0,250.2 L539.0,249.8 L540.0,249.4 L541.0,249.0 L542.0,248.5 L543.0,248.0 L544.0,247.4 L545.0,246.7 L546.0,245.8 L547.0,244.9 L548.0,244.0 L549.0,243.0 L550.0,242.1 L551.0,241.0 L552.0,239.9 L553.0,238.5 L554.0,237.0 L555.0,235.2 L556.0,233.4 L557.0,231.7 L558.0,230.1 L560.4,229.0 L560.4,222.6 L563.7,222.6 L563.7,212.5 L566.9,212.5 L566.9,200.7 L570.2,200.7 L570.2,189.3 L573.4,189.3 L573.4,177.2 L576.7,177.2 L576.7,165.5 L579.9,165.5 L579.9,154.4 L583.2,154.4 L583.2,141.9 L586.4,141.9 L586.4,127.2 L589.7,127.2 L589.7,112.9 L592.9,112.9 L592.9,99.9 L596.2,99.9 L596.2,86.1 L599.4,86.1 L599.4,70.6 L602.7,70.6 L602.7,56.7 L605.9,56.7 L605.9,44.1"/>
<path d="M105.8,303.5 L106.4,302.3 L107.0,301.2 L107.6,300.0 L108.2,298.9 L108.9,297.8 L109.6,296.7 L110.3,295.7 L111.1,294.6 L111.8,293.6 L112.6,292.6 L113.5,291.6 L114.3,290.6 L115.2,289.7 L116.2,288.8 L117.1,287.9 L118.1,287.1 L119.1,286.3 L120.2,285.5 L121.3,284.8 L122.3,284.1 L123.5,283.5 L124.6,282.8 L125.7,282.2 L126.8,281.6 L128.0,281.0 L129.1,280.4 L130.3,279.8 L131.5,279.3 L132.6,278.7 L133.8,278.2 L135.0,277.6 L136.2,277.1 L137.3,276.6 L138.5,276.1 L139.7,275.6 L140.9,275.1 L142.1,274.7 L143.3,274.2 L144.5,273.7 L145.7,273.2 L146.9,272.7 L148.1,272.2 L149.3,271.6 L150.4,271.0 L151.6,270.5 L152.8,270.0 L154.0,269.5 L155.2,269.1 L156.4,268.7 L157.7,268.3 L158.9,268.0 L160.1,267.6 L161.4,267.3 L162.6,266.9 L163.9,266.6 L165.1,266.3 L166.4,266.0 L167.7,265.7 L168.9,265.4 L170.2,265.2 L171.4,264.9 L172.7,264.5 L174.0,264.2 L175.2,263.8 L176.2,263.2 L177.1,262.2 L177.9,261.1 L178.5,259.9 L178.9,258.4 L179.2,256.8 L179.6,255.4 L180.1,254.6 L180.9,254.9 L182.1,255.8 L183.0,255.7 L183.7,254.4 L184.5,253.4 L185.7,252.9 L187.0,252.8 L188.3,252.9 L189.6,252.9 L190.9,253.0 L192.2,253.1 L193.5,253.2 L194.8,253.3 L196.1,253.4 L197.4,253.5 L198.6,253.6 L199.9,253.7 L201.2,253.8 L202.5,253.8 L203.8,253.9 L205.1,254.0 L206.4,254.0 L207.7,254.1 L209.0,254.2 L210.3,254.2 L211.5,254.3 L212.8,254.4 L214.1,254.4 L215.4,254.5 L216.7,254.6 L218.0,254.7 L219.3,254.8 L220.6,254.9 L221.9,255.0 L223.1,255.1 L224.4,255.2 L225.7,255.3 L227.0,255.4 L228.3,255.5 L229.6,255.6 L230.9,255.8 L232.1,255.9 L233.4,256.0 L234.7,256.1 L236.0,256.2 L237.3,256.3 L238.6,256.5 L239.9,256.6 L241.2,256.7 L242.4,256.8 L243.7,257.0 L245.0,257.1 L246.3,257.2 L247.6,257.4 L248.9,257.5 L250.1,257.7 L251.4,257.8 L252.7,257.9 L254.0,258.1 L255.3,258.2 L256.6,258.4 L257.8,258.5 L259.1,258.6 L260.4,258.8 L261.7,258.9 L263.0,259.0 L264.3,259.1 L265.6,259.2 L266.9,259.3 L268.1,259.4 L269.4,259.5 L270.7,259.6 L272.0,259.7 L273.3,259.8 L274.6,259.9 L275.9,260.0 L277.2,260.1 L278.4,260.2 L279.7,260.3 L281.0,260.4 L282.3,260.5 L283.6,260.7 L284.9,260.8 L286.2,261.0 L287.4,261.1 L288.7,261.3 L290.0,261.5 L291.0,261.5 L292.0,261.6 L293.0,261.6 L294.0,261.6 L295.0,261.7 L296.0,261.7 L297.0,261.7 L298.0,261.7 L299.0,261.7 L300.0,261.7 L301.0,261.7 L302.0,261.7 L303.0,261.7 L304.0,261.7 L305.0,261.7 L306.0,261.7 L307.0,261.7 L308.0,261.7 L309.0,261.7 L310.0,261.6 L311.0,261.6 L312.0,261.6 L313.0,261.6 L314.0,261.6 L315.0,261.6 L316.0,261.6 L317.0,261.6 L318.0,261.6 L319.0,261.6 L320.0,261.5 L321.0,261.5 L322.0,261.5 L323.0,261.5 L324.0,261.5 L325.0,261.5 L326.0,261.5 L327.0,261.5 L328.0,261.5 L329.0,261.5 L330.0,261.4 L331.0,261.4 L332.0,261.4 L333.0,261.4 L334.0,261.4 L335.0,261.4 L336.0,261.4 L337.0,261.4 L338.0,261.4 L339.0,261.4 L340.0,261.3 L341.0,261.3 L342.0,261.3 L343.0,261.3 L344.0,261.3 L345.0,261.3 L346.0,261.3 L347.0,261.3 L348.0,261.3 L349.0,261.3 L350.0,261.3 L351.0,261.3 L352.0,261.2 L353.0,261.2 L354.0,261.2 L355.0,261.2 L356.0,261.2 L357.0,261.2 L358.0,261.2 L359.0,261.2 L360.0,261.2 L361.0,261.2 L362.0,261.2 L363.0,261.1 L364.0,261.1 L365.0,261.1 L366.0,261.1 L367.0,261.1 L368.0,261.1 L369.0,261.1 L370.0,261.1 L371.0,261.1 L372.0,261.1 L373.0,261.0 L374.0,261.0 L375.0,261.0 L376.0,261.0 L377.0,261.0 L378.0,261.0 L379.0,261.0 L380.0,261.0 L381.0,261.0 L382.0,260.9 L383.0,260.9 L384.0,260.9 L385.0,260.9 L386.0,260.9 L387.0,260.9 L388.0,260.9 L389.0,260.9 L390.0,260.8 L391.0,260.8 L392.0,260.8 L393.0,260.8 L394.0,260.8 L395.0,260.8 L396.0,260.7 L397.0,260.7 L398.0,260.7 L399.0,260.7 L400.0,260.6 L401.0,260.6 L402.0,260.6 L403.0,260.6 L404.0,260.5 L405.0,260.5 L406.0,260.5 L407.0,260.4 L408.0,260.4 L409.0,260.4 L410.0,260.3 L411.0,260.3 L412.0,260.2 L413.0,260.2 L414.0,260.2 L415.0,260.1 L416.0,260.1 L417.0,260.1 L418.0,260.0 L419.0,260.0 L420.0,259.9 L421.0,259.9 L422.0,259.9 L423.0,259.8 L424.0,259.8 L425.0,259.8 L426.0,259.7 L427.0,259.7 L428.0,259.6 L429.0,259.6 L430.0,259.6 L431.0,259.5 L432.0,259.5 L433.0,259.5 L434.0,259.4 L435.0,259.4 L436.0,259.3 L437.0,259.3 L438.0,259.3 L439.0,259.2 L440.0,259.2 L441.0,259.2 L442.0,259.1 L443.0,259.1 L444.0,259.1 L445.0,259.0 L446.0,259.0 L447.0,259.0 L448.0,258.9 L449.0,258.9 L450.0,258.9 L451.0,258.8 L452.0,258.8 L453.0,258.8 L454.0,258.8 L455.0,258.7 L456.0,258.7 L457.0,258.7 L458.0,258.6 L459.0,258.6 L460.0,258.6 L461.0,258.6 L462.0,258.6 L463.0,258.5 L464.0,258.5 L465.0,258.5 L466.0,258.5 L467.0,258.5 L468.0,258.4 L469.0,258.4 L470.0,258.4 L471.0,258.4 L472.0,258.4 L473.0,258.4 L474.0,258.4 L475.0,258.4 L476.0,258.4 L477.0,258.4 L478.0,258.4 L479.0,258.4 L480.0,258.4 L481.0,258.4 L482.0,258.4 L483.0,258.3 L484.0,258.3 L485.0,258.3 L486.0,258.3 L487.0,258.2 L488.0,258.2 L489.0,258.2 L490.0,258.1 L491.0,258.1 L492.0,258.0 L493.0,258.0 L494.0,257.9 L495.0,257.9 L496.0,257.8 L497.0,257.8 L498.0,257.7 L499.0,257.7 L500.0,257.6 L501.0,257.6 L502.0,257.5 L503.0,257.5 L504.0,257.4 L505.0,257.4 L506.0,257.3 L507.0,257.2 L508.0,257.2 L509.0,257.1 L510.0,257.0 L511.0,256.9 L512.0,256.8 L513.0,256.7 L514.0,256.6 L515.0,256.5 L516.0,256.4 L517.0,256.3 L518.0,256.1 L519.0,256.0 L520.0,255.8 L521.0,255.7 L522.0,255.6 L523.0,255.4 L524.0,255.2 L525.0,255.1 L526.0,254.9 L527.0,254.7 L528.0,254.5 L529.0,254.3 L530.0,254.1 L531.0,253.8 L532.0,253.5 L533.0,253.2 L534.0,252.9 L535.0,252.6 L536.0,252.2 L537.0,251.8 L538.0,251.4 L539.0,251.0 L540.0,250.7 L541.0,250.3 L542.0,249.8 L543.0,249.3 L544.0,248.8 L545.0,248.1 L546.0,247.3 L547.0,246.5 L548.0,245.5 L549.0,244.6 L550.0,243.6 L551.0,242.6 L552.0,241.6 L553.0,240.4 L554.0,239.0 L555.0,237.4 L556.0,235.6 L557.0,233.8 L558.0,232.1 L559.3,232.7 L559.3,227.5 L562.5,227.5 L562.5,220.0 L565.8,220.0 L565.8,208.5 L569.0,208.5 L569.0,197.1 L572.3,197.1 L572.3,185.3 L575.5,185.3 L575.5,173.3 L578.8,173.3 L578.8,161.7 L582.0,161.7 L582.0,150.7 L585.3,150.7 L585.3,136.9 L588.5,136.9 L588.5,122.5 L591.8,122.5 L591.8,108.5 L595.0,108.5 L595.0,95.7 L598.3,95.7 L598.3,80.9 L601.5,80.9 L601.5,65.5 L604.8,65.5 L604.8,52.3"/>
<path d="M105.4,300.5 L106.0,299.4 L106.7,298.3 L107.4,297.2 L108.1,296.1 L108.8,295.1 L109.6,294.1 L110.4,293.0 L111.2,292.1 L112.1,291.1 L112.9,290.2 L113.9,289.3 L114.8,288.4 L115.8,287.6 L116.8,286.8 L117.8,286.0 L118.9,285.3 L120.0,284.6 L121.1,284.0 L122.2,283.4 L123.3,282.7 L124.5,282.2 L125.6,281.6 L126.8,281.0 L127.9,280.5 L129.1,280.0 L130.3,279.4 L131.4,278.9 L132.6,278.4 L133.8,277.9 L135.0,277.4 L136.1,276.9 L137.3,276.4 L138.5,275.9 L139.7,275.4 L140.9,275.0 L142.1,274.5 L143.3,274.1 L144.5,273.6 L145.7,273.2 L146.9,272.7 L148.0,272.1 L149.2,271.6 L150.4,271.0 L151.5,270.5 L152.7,269.9 L153.9,269.5 L155.1,269.1 L156.3,268.7 L157.5,268.3 L158.8,268.0 L160.0,267.6 L161.3,267.3 L162.5,266.9 L163.7,266.6 L165.0,266.3 L166.2,266.0 L167.5,265.7 L168.7,265.5 L170.0,265.2 L171.2,264.9 L172.5,264.6 L173.8,264.3 L175.0,263.9 L176.0,263.3 L176.9,262.4 L177.7,261.3 L178.4,260.2 L178.8,258.7 L179.2,257.2 L179.6,255.8 L180.1,255.1 L180.8,255.5 L181.8,256.8 L182.7,257.4 L183.4,256.4 L184.2,255.1 L185.2,254.5 L186.5,254.2 L187.8,254.2 L189.1,254.3 L190.4,254.4 L191.7,254.5 L192.9,254.6 L194.2,254.7 L195.5,254.8 L196.8,254.9 L198.0,255.0 L199.3,255.1 L200.6,255.1 L201.9,255.2 L203.2,255.2 L204.4,255.2 L205.7,255.2 L207.0,255.2 L208.3,255.3 L209.6,255.3 L210.9,255.3 L212.1,255.3 L213.4,255.4 L214.7,255.4 L216.0,255.4 L217.3,255.5 L218.5,255.5 L219.8,255.6 L221.1,255.7 L222.4,255.8 L223.7,255.9 L224.9,256.0 L226.2,256.1 L227.5,256.2 L228.8,256.3 L230.0,256.4 L231.3,256.6 L232.6,256.7 L233.9,256.8 L235.2,256.9 L236.4,257.1 L237.7,257.2 L239.0,257.3 L240.3,257.4 L241.5,257.5 L242.8,257.7 L244.1,257.8 L245.4,258.0 L246.6,258.1 L247.9,258.3 L249.2,258.4 L250.4,258.6 L251.7,258.7 L253.0,258.9 L254.3,259.1 L255.5,259.2 L256.8,259.4 L258.1,259.5 L259.4,259.7 L260.6,259.8 L261.9,259.9 L263.2,260.0 L264.5,260.2 L265.7,260.3 L267.0,260.4 L268.3,260.4 L269.6,260.5 L270.9,260.6 L272.1,260.7 L273.4,260.7 L274.7,260.8 L276.0,260.9 L277.3,261.0 L278.5,261.1 L279.8,261.2 L281.1,261.3 L282.4,261.4 L283.6,261.5 L284.9,261.7 L286.2,261.8 L287.5,262.0 L288.7,262.2 L290.0,262.3 L291.0,262.4 L292.0,262.4 L293.0,262.4 L294.0,262.5 L295.0,262.5 L296.0,262.5 L297.0,262.5 L298.0,262.6 L299.0,262.6 L300.0,262.6 L301.0,262.6 L302.0,262.6 L303.0,262.5 L304.0,262.5 L305.0,262.5 L306.0,262.5 L307.0,262.5 L308.0,262.5 L309.0,262.5 L310.0,262.5 L311.0,262.5 L312.0,262.5 L313.0,262.5 L314.0,262.4 L315.0,262.4 L316.0,262.4 L317.0,262.4 L318.0,262.4 L319.0,262.4 L320.0,262.4 L321.0,262.4 L322.0,262.4 L323.0,262.4 L324.0,262.3 L325.0,262.3 L326.0,262.3 L327.0,262.3 L328.0,262.3 L329.0,262.3 L330.0,262.3 L331.0,262.3 L332.0,262.3 L333.0,262.3 L334.0,262.2 L335.0,262.2 L336.0,262.2 L337.0,262.2 L338.0,262.2 L339.0,262.2 L340.0,262.2 L341.0,262.2 L342.0,262.2 L343.0,262.2 L344.0,262.2 L345.0,262.2 L346.0,262.1 L347.0,262.1 L348.0,262.1 L349.0,262.1 L350.0,262.1 L351.0,262.1 L352.0,262.1 L353.0,262.1 L354.0,262.1 L355.0,262.1 L356.0,262.1 L357.0,262.1 L358.0,262.0 L359.0,262.0 L360.0,262.0 L361.0,262.0 L362.0,262.0 L363.0,262.0 L364.0,262.0 L365.0,262.0 L366.0,262.0 L367.0,262.0 L368.0,261.9 L369.0,261.9 L370.0,261.9 L371.0,261.9 L372.0,261.9 L373.0,261.9 L374.0,261.9 L375.0,261.9 L376.0,261.9 L377.0,261.8 L378.0,261.8 L379.0,261.8 L380.0,261.8 L381.0,261.8 L382.0,261.8 L383.0,261.8 L384.0,261.8 L385.0,261.7 L386.0,261.7 L387.0,261.7 L388.0,261.7 L389.0,261.7 L390.0,261.7 L391.0,261.7 L392.0,261.6 L393.0,261.6 L394.0,261.6 L395.0,261.6 L396.0,261.6 L397.0,261.5 L398.0,261.5 L399.0,261.5 L400.0,261.4 L401.0,261.4 L402.0,261.4 L403.0,261.4 L404.0,261.3 L405.0,261.3 L406.0,261.3 L407.0,261.2 L408.0,261.2 L409.0,261.2 L410.0,261.1 L411.0,261.1 L412.0,261.1 L413.0,261.0 L414.0,261.0 L415.0,260.9 L416.0,260.9 L417.0,260.9 L418.0,260.8 L419.0,260.8 L420.0,260.8 L421.0,260.7 L422.0,260.7 L423.0,260.7 L424.0,260.6 L425.0,260.6 L426.0,260.5 L427.0,260.5 L428.0,260.5 L429.0,260.4 L430.0,260.4 L431.0,260.4 L432.0,260.3 L433.0,260.3 L434.0,260.3 L435.0,260.2 L436.0,260.2 L437.0,260.2 L438.0,260.1 L439.0,260.1 L440.0,260.1 L441.0,260.0 L442.0,260.0 L443.0,260.0 L444.0,259.9 L445.0,259.9 L446.0,259.9 L447.0,259.8 L448.0,259.8 L449.0,259.8 L450.0,259.7 L451.0,259.7 L452.0,259.7 L453.0,259.7 L454.0,259.6 L455.0,259.6 L456.0,259.6 L457.0,259.6 L458.0,259.5 L459.0,259.5 L460.0,259.5 L461.0,259.5 L462.0,259.4 L463.0,259.4 L464.0,259.4 L465.0,259.4 L466.0,259.4 L467.0,259.4 L468.0,259.3 L469.0,259.3 L470.0,259.3 L471.0,259.3 L472.0,259.3 L473.0,259.3 L474.0,259.3 L475.0,259.3 L476.0,259.3 L477.0,259.3 L478.0,259.3 L479.0,259.3 L480.0,259.3 L481.0,259.3 L482.0,259.2 L483.0,259.2 L484.0,259.2 L485.0,259.2 L486.0,259.2 L487.0,259.1 L488.0,259.1 L489.0,259.1 L490.0,259.0 L491.0,259.0 L492.0,259.0 L493.0,258.9 L494.0,258.9 L495.0,258.8 L496.0,258.8 L497.0,258.7 L498.0,258.7 L499.0,258.6 L500.0,258.6 L501.0,258.6 L502.0,258.5 L503.0,258.5 L504.0,258.4 L505.0,258.4 L506.0,258.3 L507.0,258.2 L508.0,258.2 L509.0,258.1 L510.0,258.0 L511.0,258.0 L512.0,257.9 L513.0,257.8 L514.0,257.7 L515.0,257.6 L516.0,257.5 L517.0,257.3 L518.0,257.2 L519.0,257.1 L520.0,256.9 L521.0,256.8 L522.0,256.7 L523.0,256.5 L524.0,256.4 L525.0,256.2 L526.0,256.0 L527.0,255.9 L528.0,255.7 L529.0,255.5 L530.0,255.3 L531.0,255.0 L532.0,254.7 L533.0,254.5 L534.0,254.1 L535.0,253.8 L536.0,253.4 L537.0,253.1 L538.0,252.7 L539.0,252.3 L540.0,251.9 L541.0,251.5 L542.0,251.1 L543.0,250.6 L544.0,250.1 L545.0,249.5 L546.0,248.8 L547.0,248.0 L548.0,247.1 L549.0,246.1 L550.0,245.2 L551.0,244.2 L552.0,243.2 L553.0,242.1 L554.0,240.9 L555.0,239.5 L556.0,237.9 L557.0,236.1 L558.0,234.2 L561.2,231.6 L561.2,226.0 L564.5,226.0 L564.5,217.3 L567.7,217.3 L567.7,205.2 L571.0,205.2 L571.0,193.9 L574.2,193.9 L574.2,181.8 L577.5,181.8 L577.5,170.1 L580.7,170.1 L580.7,158.7 L584.0,158.7 L584.0,147.3 L587.2,147.3 L587.2,132.8 L590.5,132.8 L590.5,118.4 L593.7,118.4 L593.7,104.9 L597.0,104.9 L597.0,91.7 L600.2,91.7 L600.2,76.3 L603.5,76.3 L603.5,61.3"/>
<path d="M605.8,19.0 L605.8,91.3 L603.2,95.8 L603.2,109.0 L600.0,109.0 L600.0,122.8 L596.7,122.8 L596.7,137.1 L593.5,137.1 L593.5,151.2 L590.2,151.2 L590.2,162.2 L587.0,162.2 L587.0,173.7 L583.7,173.7 L583.7,185.7 L580.5,185.7 L580.5,197.8 L577.2,197.8 L577.2,209.3 L574.0,209.3 L574.0,221.4 L570.7,221.4 L570.7,229.8 L567.5,229.8 L567.5,235.6 L566.0,235.4 L565.0,237.1 L564.0,239.1 L563.0,241.0 L562.0,242.8 L561.0,244.4 L560.0,245.8 L559.0,247.0 L558.0,248.2 L557.0,249.3 L556.0,250.3 L555.0,251.3 L554.0,252.3 L553.0,253.3 L552.0,254.2 L551.0,255.0 L550.0,255.8 L549.0,256.5 L548.0,257.1 L547.0,257.7 L546.0,258.2 L545.0,258.6 L544.0,259.1 L543.0,259.5 L542.0,259.9 L541.0,260.3 L540.0,260.6 L539.0,261.0 L538.0,261.4 L537.0,261.7 L536.0,262.0 L535.0,262.3 L534.0,262.6 L533.0,262.8 L532.0,263.0 L531.0,263.2 L530.0,263.4 L529.0,263.6 L528.0,263.7 L527.0,263.8 L526.0,264.0 L525.0,264.1 L524.0,264.2 L523.0,264.3 L522.0,264.4 L521.0,264.5 L520.0,264.6 L519.0,264.7 L518.0,264.8 L517.0,264.8 L516.0,264.9 L515.0,265.0 L514.0,265.0 L513.0,265.1 L512.0,265.1 L511.0,265.1 L510.0,265.2 L509.0,265.2 L508.0,265.2 L507.0,265.2 L506.0,265.2 L505.0,265.2 L504.0,265.2 L503.0,265.2 L502.0,265.3 L501.0,265.3 L500.0,265.3 L499.0,265.3 L498.0,265.3 L497.0,265.3 L496.0,265.3 L495.0,265.3 L494.0,265.4 L493.0,265.4 L492.0,265.4 L491.0,265.4 L490.0,265.4 L489.0,265.4 L488.0,265.4 L487.0,265.5 L486.0,265.5 L485.0,265.5 L484.0,265.5 L483.0,265.5 L482.0,265.5 L481.0,265.5 L480.0,265.5 L479.0,265.5 L478.0,265.5 L477.0,265.5 L476.0,265.5 L475.0,265.5 L474.0,265.5 L473.0,265.5 L472.0,265.5 L471.0,265.5 L470.0,265.5 L469.0,265.6 L468.0,265.6 L467.0,265.6 L466.0,265.6 L465.0,265.6 L464.0,265.6 L463.0,265.6 L462.0,265.7 L461.0,265.7 L460.0,265.7 L459.0,265.7 L458.0,265.7 L457.0,265.8 L456.0,265.8 L455.0,265.8 L454.0,265.8 L453.0,265.9 L452.0,265.9 L451.0,265.9 L450.0,265.9 L449.0,265.9 L448.0,266.0 L447.0,266.0 L446.0,266.0 L445.0,266.0 L444.0,266.1 L443.0,266.1 L442.0,266.1 L441.0,266.1 L440.0,266.2 L439.0,266.2 L438.0,266.2 L437.0,266.2 L436.0,266.3 L435.0,266.3 L434.0,266.3 L433.0,266.3 L432.0,266.4 L431.0,266.4 L430.0,266.4 L429.0,266.4 L428.0,266.4 L427.0,266.5 L426.0,266.5 L425.0,266.5 L424.0,266.5 L423.0,266.6 L422.0,266.6 L421.0,266.6 L420.0,266.7 L419.0,266.7 L418.0,266.7 L417.0,266.8 L416.0,266.8 L415.0,266.8 L414.0,266.9 L413.0,266.9 L412.0,266.9 L411.0,267.0 L410.0,267.0 L409.0,267.0 L408.0,267.1 L407.0,267.1 L406.0,267.1 L405.0,267.2 L404.0,267.2 L403.0,267.2 L402.0,267.3 L401.0,267.3 L400.0,267.4 L399.0,267.4 L398.0,267.4 L397.0,267.5 L396.0,267.5 L395.0,267.5 L394.0,267.6 L393.0,267.6 L392.0,267.6 L391.0,267.7 L390.0,267.7 L389.0,267.7 L388.0,267.8 L387.0,267.8 L386.0,267.8 L385.0,267.9 L384.0,267.9 L383.0,267.9 L382.0,267.9 L381.0,268.0 L380.0,268.0 L379.0,268.0 L378.0,268.1 L377.0,268.1 L376.0,268.1 L375.0,268.2 L374.0,268.2 L373.0,268.2 L372.0,268.2 L371.0,268.3 L370.0,268.3 L369.0,268.3 L368.0,268.4 L367.0,268.4 L366.0,268.4 L365.0,268.5 L364.0,268.5 L363.0,268.5 L362.0,268.5 L361.0,268.6 L360.0,268.6 L359.0,268.6 L358.0,268.7 L357.0,268.7 L356.0,268.7 L355.0,268.7 L354.0,268.8 L353.0,268.8 L352.0,268.8 L351.0,268.9 L350.0,268.9 L349.0,268.9 L348.0,269.0 L347.0,269.0 L346.0,269.0 L345.0,269.0 L344.0,269.1 L343.0,269.1 L342.0,269.1 L341.0,269.2 L340.0,269.2 L339.0,269.2 L338.0,269.3 L337.0,269.3 L336.0,269.3 L335.0,269.4 L334.0,269.4 L333.0,269.4 L332.0,269.5 L331.0,269.5 L330.0,269.5 L329.0,269.6 L328.0,269.6 L327.0,269.6 L326.0,269.7 L325.0,269.7 L324.0,269.7 L323.0,269.8 L322.0,269.8 L321.0,269.8 L320.0,269.9 L319.0,269.9 L318.0,269.9 L317.0,270.0 L316.0,270.0 L315.0,270.0 L314.0,270.1 L313.0,270.1 L312.0,270.1 L311.0,270.2 L310.0,270.2 L309.0,270.2 L308.0,270.3 L307.0,270.3 L306.0,270.3 L305.0,270.4 L304.0,270.4 L303.0,270.4 L302.0,270.4 L301.0,270.5 L300.0,270.5 L299.0,270.5 L298.0,270.5 L297.0,270.5 L296.0,270.5 L295.0,270.5 L294.0,270.5 L293.0,270.5 L292.0,270.5 L291.0,270.4 L290.0,270.4 L290.0,270.1 L288.5,270.1 L287.0,270.1 L285.5,270.1 L284.0,270.1 L282.5,270.2 L281.0,270.2 L279.5,270.2 L278.0,270.2 L276.5,270.2 L275.0,270.2 L273.5,270.2 L272.0,270.2 L270.5,270.3 L269.0,270.3 L267.5,270.3 L266.0,270.3 L264.5,270.3 L263.0,270.3 L261.5,270.3 L260.0,270.3 L258.5,270.4 L257.0,270.4 L255.5,270.4 L254.0,270.4 L252.5,270.4 L251.0,270.4 L249.5,270.4 L248.0,270.4 L246.5,270.4 L245.0,270.5 L243.5,270.5 L242.0,270.5 L240.5,270.5 L239.0,270.5 L237.5,270.5 L236.0,270.5 L234.5,270.5 L233.0,270.5 L231.5,270.6 L230.0,270.6 L228.5,270.6 L227.0,270.6 L225.5,270.6 L224.0,270.6 L222.5,270.6 L221.0,270.6 L219.5,270.6 L218.0,270.7 L216.5,270.7 L215.0,270.7 L213.5,270.7 L212.0,270.7 L210.5,270.8 L209.0,270.8 L207.5,270.8 L206.0,270.9 L204.5,270.9 L203.0,271.0 L201.5,271.0 L200.0,271.1 L198.5,271.2 L197.0,271.2 L195.5,271.3 L194.0,271.4 L192.5,271.5 L191.0,271.5 L189.5,271.6 L188.0,271.7 L186.5,271.9 L185.0,272.0 L183.5,272.2 L182.0,272.4 L180.5,272.6 L179.0,272.8 L177.5,273.1 L176.0,273.3 L174.5,273.6 L173.0,273.9 L171.5,274.3 L170.0,274.7 L168.5,275.1 L167.0,275.6 L165.5,276.0 L164.0,276.4 L162.5,276.9 L161.0,277.3 L159.5,277.7 L158.0,278.1 L156.5,278.6 L155.0,279.1 L153.5,279.8 L152.0,280.5 L150.5,281.5 L149.0,282.5 L147.5,283.6 L146.0,284.6 L144.5,285.6 L143.0,286.7 L141.5,288.1 L140.0,289.9 L138.5,292.0 L137.0,294.1 L135.5,296.1 L134.0,298.3 L132.5,300.7 L131.0,303.4 L129.5,306.3 L128.0,309.4 L126.5,312.6 L125.0,316.0 L123.5,319.3 L122.0,322.4 L120.5,325.4 L119.0,328.4 L117.5,331.5 L116.0,334.6 L114.5,337.5 L113.0,340.1 L111.5,342.3 L110.0,343.6 L108.5,344.4 L107.3,344.6 L106.0,342.8 L105.0,338.4"/>
<path d="M605.8,40.3 L605.8,86.4 L605.3,80.7 L605.3,96.3 L602.1,96.3 L602.1,109.4 L598.8,109.4 L598.8,123.3 L595.6,123.3 L595.6,137.6 L592.3,137.6 L592.3,151.6 L589.1,151.6 L589.1,162.6 L585.8,162.6 L585.8,174.1 L582.6,174.1 L582.6,186.1 L579.3,186.1 L579.3,198.1 L576.1,198.1 L576.1,209.6 L572.8,209.6 L572.8,221.6 L569.6,221.6 L569.6,229.8 L566.3,229.8 L566.3,235.5 L566.0,233.3 L565.0,235.0 L564.0,236.7 L563.0,238.6 L562.0,240.6 L561.0,242.3 L560.0,243.9 L559.0,245.3 L558.0,246.5 L557.0,247.6 L556.0,248.7 L555.0,249.7 L554.0,250.7 L553.0,251.7 L552.0,252.7 L551.0,253.6 L550.0,254.4 L549.0,255.1 L548.0,255.8 L547.0,256.3 L546.0,256.9 L545.0,257.4 L544.0,257.8 L543.0,258.2 L542.0,258.6 L541.0,259.0 L540.0,259.4 L539.0,259.8 L538.0,260.1 L537.0,260.5 L536.0,260.8 L535.0,261.1 L534.0,261.4 L533.0,261.6 L532.0,261.9 L531.0,262.1 L530.0,262.2 L529.0,262.4 L528.0,262.6 L527.0,262.7 L526.0,262.8 L525.0,263.0 L524.0,263.1 L523.0,263.2 L522.0,263.3 L521.0,263.4 L520.0,263.5 L519.0,263.6 L518.0,263.7 L517.0,263.8 L516.0,263.9 L515.0,263.9 L514.0,264.0 L513.0,264.0 L512.0,264.1 L511.0,264.1 L510.0,264.2 L509.0,264.2 L508.0,264.2 L507.0,264.2 L506.0,264.2 L505.0,264.2 L504.0,264.3 L503.0,264.3 L502.0,264.3 L501.0,264.3 L500.0,264.3 L499.0,264.3 L498.0,264.4 L497.0,264.4 L496.0,264.4 L495.0,264.4 L494.0,264.4 L493.0,264.5 L492.0,264.5 L491.0,264.5 L490.0,264.5 L489.0,264.5 L488.0,264.5 L487.0,264.6 L486.0,264.6 L485.0,264.6 L484.0,264.6 L483.0,264.6 L482.0,264.6 L481.0,264.6 L480.0,264.6 L479.0,264.6 L478.0,264.6 L477.0,264.6 L476.0,264.6 L475.0,264.6 L474.0,264.6 L473.0,264.6 L472.0,264.6 L471.0,264.7 L470.0,264.7 L469.0,264.7 L468.0,264.7 L467.0,264.7 L466.0,264.7 L465.0,264.7 L464.0,264.7 L463.0,264.8 L462.0,264.8 L461.0,264.8 L460.0,264.8 L459.0,264.8 L458.0,264.9 L457.0,264.9 L456.0,264.9 L455.0,264.9 L454.0,265.0 L453.0,265.0 L452.0,265.0 L451.0,265.0 L450.0,265.1 L449.0,265.1 L448.0,265.1 L447.0,265.1 L446.0,265.2 L445.0,265.2 L444.0,265.2 L443.0,265.3 L442.0,265.3 L441.0,265.3 L440.0,265.3 L439.0,265.4 L438.0,265.4 L437.0,265.4 L436.0,265.4 L435.0,265.5 L434.0,265.5 L433.0,265.5 L432.0,265.6 L431.0,265.6 L430.0,265.6 L429.0,265.6 L428.0,265.7 L427.0,265.7 L426.0,265.7 L425.0,265.8 L424.0,265.8 L423.0,265.8 L422.0,265.9 L421.0,265.9 L420.0,265.9 L419.0,266.0 L418.0,266.0 L417.0,266.0 L416.0,266.1 L415.0,266.1 L414.0,266.1 L413.0,266.2 L412.0,266.2 L411.0,266.2 L410.0,266.3 L409.0,266.3 L408.0,266.4 L407.0,266.4 L406.0,266.4 L405.0,266.5 L404.0,266.5 L403.0,266.5 L402.0,266.6 L401.0,266.6 L400.0,266.7 L399.0,266.7 L398.0,266.7 L397.0,266.8 L396.0,266.8 L395.0,266.8 L394.0,266.9 L393.0,266.9 L392.0,266.9 L391.0,267.0 L390.0,267.0 L389.0,267.0 L388.0,267.1 L387.0,267.1 L386.0,267.1 L385.0,267.2 L384.0,267.2 L383.0,267.2 L382.0,267.3 L381.0,267.3 L380.0,267.3 L379.0,267.4 L378.0,267.4 L377.0,267.4 L376.0,267.4 L375.0,267.5 L374.0,267.5 L373.0,267.5 L372.0,267.6 L371.0,267.6 L370.0,267.6 L369.0,267.7 L368.0,267.7 L367.0,267.7 L366.0,267.7 L365.0,267.8 L364.0,267.8 L363.0,267.8 L362.0,267.9 L361.0,267.9 L360.0,267.9 L359.0,267.9 L358.0,268.0 L357.0,268.0 L356.0,268.0 L355.0,268.1 L354.0,268.1 L353.0,268.1 L352.0,268.2 L351.0,268.2 L350.0,268.2 L349.0,268.2 L348.0,268.3 L347.0,268.3 L346.0,268.3 L345.0,268.4 L344.0,268.4 L343.0,268.4 L342.0,268.4 L341.0,268.5 L340.0,268.5 L339.0,268.5 L338.0,268.6 L337.0,268.6 L336.0,268.6 L335.0,268.7 L334.0,268.7 L333.0,268.7 L332.0,268.8 L331.0,268.8 L330.0,268.8 L329.0,268.9 L328.0,268.9 L327.0,268.9 L326.0,269.0 L325.0,269.0 L324.0,269.0 L323.0,269.1 L322.0,269.1 L321.0,269.1 L320.0,269.2 L319.0,269.2 L318.0,269.2 L317.0,269.3 L316.0,269.3 L315.0,269.3 L314.0,269.4 L313.0,269.4 L312.0,269.4 L311.0,269.5 L310.0,269.5 L309.0,269.5 L308.0,269.6 L307.0,269.6 L306.0,269.6 L305.0,269.6 L304.0,269.7 L303.0,269.7 L302.0,269.7 L301.0,269.7 L300.0,269.8 L299.0,269.8 L298.0,269.8 L297.0,269.8 L296.0,269.8 L295.0,269.8 L294.0,269.8 L293.0,269.8 L292.0,269.7 L291.0,269.7 L290.0,269.7 L290.0,269.4 L288.5,269.4 L287.0,269.4 L285.5,269.4 L284.0,269.4 L282.5,269.5 L281.0,269.5 L279.5,269.5 L278.0,269.5 L276.5,269.5 L275.0,269.5 L273.5,269.5 L272.0,269.5 L270.5,269.5 L269.0,269.5 L267.5,269.6 L266.0,269.6 L264.5,269.6 L263.0,269.6 L261.5,269.6 L260.0,269.6 L258.5,269.6 L257.0,269.6 L255.5,269.6 L254.0,269.6 L252.5,269.7 L251.0,269.7 L249.5,269.7 L248.0,269.7 L246.5,269.7 L245.0,269.7 L243.5,269.7 L242.0,269.7 L240.5,269.7 L239.0,269.8 L237.5,269.8 L236.0,269.8 L234.5,269.8 L233.0,269.8 L231.5,269.8 L230.0,269.8 L228.5,269.8 L227.0,269.8 L225.5,269.9 L224.0,269.9 L222.5,269.9 L221.0,269.9 L219.5,269.9 L218.0,269.9 L216.5,270.0 L215.0,270.0 L213.5,270.0 L212.0,270.1 L210.5,270.1 L209.0,270.2 L207.5,270.3 L206.0,270.3 L204.5,270.4 L203.0,270.5 L201.5,270.6 L200.0,270.7 L198.5,270.8 L197.0,270.9 L195.5,271.0 L194.0,271.1 L192.5,271.2 L191.0,271.3 L189.5,271.4 L188.0,271.5 L186.5,271.6 L185.0,271.7 L183.5,271.9 L182.0,272.1 L180.5,272.3 L179.0,272.5 L177.5,272.7 L176.0,272.9 L174.5,273.1 L173.0,273.4 L171.5,273.7 L170.0,274.1 L168.5,274.5 L167.0,274.9 L165.5,275.3 L164.0,275.7 L162.5,276.0 L161.0,276.4 L159.5,276.8 L158.0,277.1 L156.5,277.4 L155.0,277.8 L153.5,278.3 L152.0,278.9 L150.5,279.6 L149.0,280.5 L147.5,281.4 L146.0,282.2 L144.5,283.1 L143.0,284.0 L141.5,285.1 L140.0,286.4 L138.5,287.8 L137.0,289.2 L135.5,290.6 L134.0,292.0 L132.5,293.5 L131.0,295.1 L129.5,296.7 L128.0,298.4 L126.5,300.0 L125.0,301.6 L123.5,303.1 L122.0,304.4 L120.5,305.7 L119.0,306.9 L117.5,308.1 L116.0,309.3 L114.5,310.4 L113.0,311.4 L111.5,312.4 L110.0,313.4 L108.5,314.5 L107.5,315.3"/>
<path d="M605.8,38.2 L605.8,81.4 L604.0,82.2 L604.0,97.5 L600.8,97.5 L600.8,110.5 L597.5,110.5 L597.5,124.4 L594.3,124.4 L594.3,138.8 L591.0,138.8 L591.0,152.5 L587.8,152.5 L587.8,163.4 L584.5,163.4 L584.5,175.1 L581.3,175.1 L581.3,187.1 L578.0,187.1 L578.0,199.0 L574.8,199.0 L574.8,210.6 L571.5,210.6 L571.5,222.2 L568.3,222.2 L568.3,230.1 L566.0,231.3 L565.0,232.9 L564.0,234.6 L563.0,236.3 L562.0,238.2 L561.0,240.1 L560.0,241.9 L559.0,243.4 L558.0,244.7 L557.0,246.0 L556.0,247.1 L555.0,248.1 L554.0,249.1 L553.0,250.1 L552.0,251.1 L551.0,252.1 L550.0,252.9 L549.0,253.7 L548.0,254.4 L547.0,255.0 L546.0,255.6 L545.0,256.1 L544.0,256.5 L543.0,257.0 L542.0,257.4 L541.0,257.8 L540.0,258.2 L539.0,258.5 L538.0,258.9 L537.0,259.2 L536.0,259.6 L535.0,259.9 L534.0,260.2 L533.0,260.4 L532.0,260.7 L531.0,260.9 L530.0,261.1 L529.0,261.3 L528.0,261.4 L527.0,261.6 L526.0,261.7 L525.0,261.8 L524.0,262.0 L523.0,262.1 L522.0,262.2 L521.0,262.3 L520.0,262.4 L519.0,262.5 L518.0,262.6 L517.0,262.7 L516.0,262.8 L515.0,262.9 L514.0,262.9 L513.0,263.0 L512.0,263.1 L511.0,263.1 L510.0,263.1 L509.0,263.2 L508.0,263.2 L507.0,263.2 L506.0,263.2 L505.0,263.3 L504.0,263.3 L503.0,263.3 L502.0,263.3 L501.0,263.4 L500.0,263.4 L499.0,263.4 L498.0,263.4 L497.0,263.4 L496.0,263.5 L495.0,263.5 L494.0,263.5 L493.0,263.5 L492.0,263.6 L491.0,263.6 L490.0,263.6 L489.0,263.6 L488.0,263.6 L487.0,263.7 L486.0,263.7 L485.0,263.7 L484.0,263.7 L483.0,263.7 L482.0,263.7 L481.0,263.7 L480.0,263.7 L479.0,263.7 L478.0,263.7 L477.0,263.7 L476.0,263.7 L475.0,263.7 L474.0,263.7 L473.0,263.7 L472.0,263.8 L471.0,263.8 L470.0,263.8 L469.0,263.8 L468.0,263.8 L467.0,263.8 L466.0,263.8 L465.0,263.8 L464.0,263.9 L463.0,263.9 L462.0,263.9 L461.0,263.9 L460.0,263.9 L459.0,264.0 L458.0,264.0 L457.0,264.0 L456.0,264.0 L455.0,264.1 L454.0,264.1 L453.0,264.1 L452.0,264.2 L451.0,264.2 L450.0,264.2 L449.0,264.2 L448.0,264.3 L447.0,264.3 L446.0,264.3 L445.0,264.4 L444.0,264.4 L443.0,264.4 L442.0,264.5 L441.0,264.5 L440.0,264.5 L439.0,264.5 L438.0,264.6 L437.0,264.6 L436.0,264.6 L435.0,264.7 L434.0,264.7 L433.0,264.7 L432.0,264.8 L431.0,264.8 L430.0,264.8 L429.0,264.9 L428.0,264.9 L427.0,264.9 L426.0,265.0 L425.0,265.0 L424.0,265.0 L423.0,265.1 L422.0,265.1 L421.0,265.1 L420.0,265.2 L419.0,265.2 L418.0,265.2 L417.0,265.3 L416.0,265.3 L415.0,265.4 L414.0,265.4 L413.0,265.4 L412.0,265.5 L411.0,265.5 L410.0,265.6 L409.0,265.6 L408.0,265.6 L407.0,265.7 L406.0,265.7 L405.0,265.8 L404.0,265.8 L403.0,265.9 L402.0,265.9 L401.0,265.9 L400.0,266.0 L399.0,266.0 L398.0,266.0 L397.0,266.1 L396.0,266.1 L395.0,266.2 L394.0,266.2 L393.0,266.2 L392.0,266.3 L391.0,266.3 L390.0,266.3 L389.0,266.4 L388.0,266.4 L387.0,266.4 L386.0,266.5 L385.0,266.5 L384.0,266.5 L383.0,266.5 L382.0,266.6 L381.0,266.6 L380.0,266.6 L379.0,266.7 L378.0,266.7 L377.0,266.7 L376.0,266.8 L375.0,266.8 L374.0,266.8 L373.0,266.8 L372.0,266.9 L371.0,266.9 L370.0,266.9 L369.0,267.0 L368.0,267.0 L367.0,267.0 L366.0,267.1 L365.0,267.1 L364.0,267.1 L363.0,267.1 L362.0,267.2 L361.0,267.2 L360.0,267.2 L359.0,267.3 L358.0,267.3 L357.0,267.3 L356.0,267.3 L355.0,267.4 L354.0,267.4 L353.0,267.4 L352.0,267.5 L351.0,267.5 L350.0,267.5 L349.0,267.6 L348.0,267.6 L347.0,267.6 L346.0,267.6 L345.0,267.7 L344.0,267.7 L343.0,267.7 L342.0,267.8 L341.0,267.8 L340.0,267.8 L339.0,267.9 L338.0,267.9 L337.0,267.9 L336.0,267.9 L335.0,268.0 L334.0,268.0 L333.0,268.0 L332.0,268.1 L331.0,268.1 L330.0,268.1 L329.0,268.2 L328.0,268.2 L327.0,268.2 L326.0,268.3 L325.0,268.3 L324.0,268.3 L323.0,268.4 L322.0,268.4 L321.0,268.4 L320.0,268.5 L319.0,268.5 L318.0,268.5 L317.0,268.6 L316.0,268.6 L315.0,268.6 L314.0,268.7 L313.0,268.7 L312.0,268.7 L311.0,268.8 L310.0,268.8 L309.0,268.8 L308.0,268.8 L307.0,268.9 L306.0,268.9 L305.0,268.9 L304.0,269.0 L303.0,269.0 L302.0,269.0 L301.0,269.0 L300.0,269.0 L299.0,269.1 L298.0,269.1 L297.0,269.1 L296.0,269.1 L295.0,269.1 L294.0,269.0 L293.0,269.0 L292.0,269.0 L291.0,269.0 L290.0,268.9 L290.0,268.7 L288.5,268.7 L287.0,268.7 L285.5,268.7 L284.0,268.7 L282.5,268.7 L281.0,268.7 L279.5,268.8 L278.0,268.8 L276.5,268.8 L275.0,268.8 L273.5,268.8 L272.0,268.8 L270.5,268.8 L269.0,268.8 L267.5,268.8 L266.0,268.8 L264.5,268.8 L263.0,268.8 L261.5,268.9 L260.0,268.9 L258.5,268.9 L257.0,268.9 L255.5,268.9 L254.0,268.9 L252.5,268.9 L251.0,268.9 L249.5,268.9 L248.0,268.9 L246.5,269.0 L245.0,269.0 L243.5,269.0 L242.0,269.0 L240.5,269.0 L239.0,269.0 L237.5,269.0 L236.0,269.0 L234.5,269.0 L233.0,269.1 L231.5,269.1 L230.0,269.1 L228.5,269.1 L227.0,269.1 L225.5,269.1 L224.0,269.1 L222.5,269.2 L221.0,269.2 L219.5,269.2 L218.0,269.2 L216.5,269.2 L215.0,269.3 L213.5,269.3 L212.0,269.4 L210.5,269.5 L209.0,269.6 L207.5,269.7 L206.0,269.8 L204.5,269.9 L203.0,270.0 L201.5,270.2 L200.0,270.3 L198.5,270.4 L197.0,270.5 L195.5,270.6 L194.0,270.8 L192.5,270.9 L191.0,271.0 L189.5,271.1 L188.0,271.2 L186.5,271.3 L185.0,271.5 L183.5,271.6 L182.0,271.7 L180.5,271.9 L179.0,272.1 L177.5,272.3 L176.0,272.5 L174.5,272.7 L173.0,272.9 L171.5,273.2 L170.0,273.5 L168.5,273.8 L167.0,274.2 L165.5,274.5 L164.0,274.9 L162.5,275.2 L161.0,275.6 L159.5,275.9 L158.0,276.2 L156.5,276.6 L155.0,277.0 L153.5,277.4 L152.0,278.0 L150.5,278.7 L149.0,279.5 L147.5,280.3 L146.0,281.1 L144.5,281.9 L143.0,282.8 L141.5,283.8 L140.0,284.9 L138.5,286.2 L137.0,287.4 L135.5,288.6 L134.0,289.9 L132.5,291.2 L131.0,292.6 L129.5,294.1 L128.0,295.6 L126.5,297.0 L125.0,298.4 L123.5,299.7 L122.0,300.9 L120.5,302.0 L119.0,303.1 L117.5,304.1 L116.0,305.2 L114.5,306.2 L113.0,307.1 L111.5,308.0 L110.0,308.9 L108.5,309.8 L107.0,310.9 L106.9,311.0"/>
<path d="M605.8,48.0 L605.8,76.3 L606.0,67.5 L606.0,83.7 L602.7,83.7 L602.7,98.6 L599.5,98.6 L599.5,111.5 L596.2,111.5 L596.2,125.6 L593.0,125.6 L593.0,140.1 L589.7,140.1 L589.7,153.4 L586.5,153.4 L586.5,164.4 L583.2,164.4 L583.2,176.0 L580.0,176.0 L580.0,188.1 L576.7,188.1 L576.7,199.9 L573.5,199.9 L573.5,211.6 L570.2,211.6 L570.2,222.8 L567.0,222.8 L567.0,230.3 L566.0,229.0 L565.0,230.9 L564.0,232.6 L563.0,234.2 L562.0,235.9 L561.0,237.8 L560.0,239.7 L559.0,241.4 L558.0,242.9 L557.0,244.2 L556.0,245.4 L555.0,246.5 L554.0,247.6 L553.0,248.6 L552.0,249.5 L551.0,250.5 L550.0,251.4 L549.0,252.2 L548.0,253.0 L547.0,253.7 L546.0,254.3 L545.0,254.8 L544.0,255.3 L543.0,255.7 L542.0,256.1 L541.0,256.5 L540.0,256.9 L539.0,257.3 L538.0,257.7 L537.0,258.0 L536.0,258.4 L535.0,258.7 L534.0,259.0 L533.0,259.3 L532.0,259.5 L531.0,259.7 L530.0,259.9 L529.0,260.1 L528.0,260.3 L527.0,260.4 L526.0,260.6 L525.0,260.7 L524.0,260.9 L523.0,261.0 L522.0,261.1 L521.0,261.2 L520.0,261.3 L519.0,261.4 L518.0,261.5 L517.0,261.6 L516.0,261.7 L515.0,261.8 L514.0,261.9 L513.0,262.0 L512.0,262.0 L511.0,262.1 L510.0,262.1 L509.0,262.2 L508.0,262.2 L507.0,262.2 L506.0,262.3 L505.0,262.3 L504.0,262.3 L503.0,262.3 L502.0,262.4 L501.0,262.4 L500.0,262.4 L499.0,262.4 L498.0,262.5 L497.0,262.5 L496.0,262.5 L495.0,262.6 L494.0,262.6 L493.0,262.6 L492.0,262.6 L491.0,262.7 L490.0,262.7 L489.0,262.7 L488.0,262.7 L487.0,262.8 L486.0,262.8 L485.0,262.8 L484.0,262.8 L483.0,262.8 L482.0,262.8 L481.0,262.8 L480.0,262.8 L479.0,262.8 L478.0,262.8 L477.0,262.8 L476.0,262.8 L475.0,262.8 L474.0,262.8 L473.0,262.9 L472.0,262.9 L471.0,262.9 L470.0,262.9 L469.0,262.9 L468.0,262.9 L467.0,262.9 L466.0,262.9 L465.0,263.0 L464.0,263.0 L463.0,263.0 L462.0,263.0 L461.0,263.0 L460.0,263.1 L459.0,263.1 L458.0,263.1 L457.0,263.2 L456.0,263.2 L455.0,263.2 L454.0,263.2 L453.0,263.3 L452.0,263.3 L451.0,263.3 L450.0,263.4 L449.0,263.4 L448.0,263.4 L447.0,263.5 L446.0,263.5 L445.0,263.5 L444.0,263.6 L443.0,263.6 L442.0,263.6 L441.0,263.7 L440.0,263.7 L439.0,263.7 L438.0,263.8 L437.0,263.8 L436.0,263.8 L435.0,263.9 L434.0,263.9 L433.0,263.9 L432.0,264.0 L431.0,264.0 L430.0,264.0 L429.0,264.1 L428.0,264.1 L427.0,264.1 L426.0,264.2 L425.0,264.2 L424.0,264.3 L423.0,264.3 L422.0,264.3 L421.0,264.4 L420.0,264.4 L419.0,264.5 L418.0,264.5 L417.0,264.6 L416.0,264.6 L415.0,264.6 L414.0,264.7 L413.0,264.7 L412.0,264.8 L411.0,264.8 L410.0,264.9 L409.0,264.9 L408.0,264.9 L407.0,265.0 L406.0,265.0 L405.0,265.1 L404.0,265.1 L403.0,265.2 L402.0,265.2 L401.0,265.2 L400.0,265.3 L399.0,265.3 L398.0,265.4 L397.0,265.4 L396.0,265.4 L395.0,265.5 L394.0,265.5 L393.0,265.5 L392.0,265.6 L391.0,265.6 L390.0,265.6 L389.0,265.7 L388.0,265.7 L387.0,265.7 L386.0,265.8 L385.0,265.8 L384.0,265.8 L383.0,265.9 L382.0,265.9 L381.0,265.9 L380.0,266.0 L379.0,266.0 L378.0,266.0 L377.0,266.0 L376.0,266.1 L375.0,266.1 L374.0,266.1 L373.0,266.2 L372.0,266.2 L371.0,266.2 L370.0,266.3 L369.0,266.3 L368.0,266.3 L367.0,266.3 L366.0,266.4 L365.0,266.4 L364.0,266.4 L363.0,266.5 L362.0,266.5 L361.0,266.5 L360.0,266.5 L359.0,266.6 L358.0,266.6 L357.0,266.6 L356.0,266.7 L355.0,266.7 L354.0,266.7 L353.0,266.8 L352.0,266.8 L351.0,266.8 L350.0,266.8 L349.0,266.9 L348.0,266.9 L347.0,266.9 L346.0,267.0 L345.0,267.0 L344.0,267.0 L343.0,267.0 L342.0,267.1 L341.0,267.1 L340.0,267.1 L339.0,267.2 L338.0,267.2 L337.0,267.2 L336.0,267.3 L335.0,267.3 L334.0,267.3 L333.0,267.4 L332.0,267.4 L331.0,267.4 L330.0,267.4 L329.0,267.5 L328.0,267.5 L327.0,267.5 L326.0,267.6 L325.0,267.6 L324.0,267.6 L323.0,267.7 L322.0,267.7 L321.0,267.7 L320.0,267.8 L319.0,267.8 L318.0,267.8 L317.0,267.9 L316.0,267.9 L315.0,267.9 L314.0,268.0 L313.0,268.0 L312.0,268.0 L311.0,268.0 L310.0,268.1 L309.0,268.1 L308.0,268.1 L307.0,268.2 L306.0,268.2 L305.0,268.2 L304.0,268.2 L303.0,268.3 L302.0,268.3 L301.0,268.3 L300.0,268.3 L299.0,268.3 L298.0,268.3 L297.0,268.3 L296.0,268.3 L295.0,268.3 L294.0,268.3 L293.0,268.3 L292.0,268.3 L291.0,268.2 L290.0,268.2 L290.0,268.0 L288.5,268.0 L287.0,268.0 L285.5,268.0 L284.0,268.0 L282.5,268.0 L281.0,268.0 L279.5,268.0 L278.0,268.0 L276.5,268.1 L275.0,268.1 L273.5,268.1 L272.0,268.1 L270.5,268.1 L269.0,268.1 L267.5,268.1 L266.0,268.1 L264.5,268.1 L263.0,268.1 L261.5,268.1 L260.0,268.1 L258.5,268.1 L257.0,268.1 L255.5,268.1 L254.0,268.2 L252.5,268.2 L251.0,268.2 L249.5,268.2 L248.0,268.2 L246.5,268.2 L245.0,268.2 L243.5,268.2 L242.0,268.2 L240.5,268.2 L239.0,268.3 L237.5,268.3 L236.0,268.3 L234.5,268.3 L233.0,268.3 L231.5,268.3 L230.0,268.3 L228.5,268.3 L227.0,268.4 L225.5,268.4 L224.0,268.4 L222.5,268.4 L221.0,268.4 L219.5,268.5 L218.0,268.5 L216.5,268.5 L215.0,268.5 L213.5,268.6 L212.0,268.7 L210.5,268.8 L209.0,268.9 L207.5,269.1 L206.0,269.2 L204.5,269.4 L203.0,269.6 L201.5,269.7 L200.0,269.9 L198.5,270.0 L197.0,270.1 L195.5,270.3 L194.0,270.5 L192.5,270.6 L191.0,270.7 L189.5,270.8 L188.0,270.9 L186.5,271.1 L185.0,271.2 L183.5,271.3 L182.0,271.4 L180.5,271.6 L179.0,271.7 L177.5,271.9 L176.0,272.0 L174.5,272.2 L173.0,272.4 L171.5,272.7 L170.0,272.9 L168.5,273.2 L167.0,273.5 L165.5,273.8 L164.0,274.1 L162.5,274.4 L161.0,274.7 L159.5,275.1 L158.0,275.4 L156.5,275.7 L155.0,276.1 L153.5,276.5 L152.0,277.1 L150.5,277.8 L149.0,278.5 L147.5,279.3 L146.0,280.1 L144.5,280.8 L143.0,281.6 L141.5,282.5 L140.0,283.5 L138.5,284.6 L137.0,285.7 L135.5,286.8 L134.0,287.9 L132.5,289.0 L131.0,290.3 L129.5,291.6 L128.0,292.8 L126.5,294.1 L125.0,295.3 L123.5,296.4 L122.0,297.5 L120.5,298.5 L119.0,299.4 L117.5,300.4 L116.0,301.3 L114.5,302.2 L113.0,303.0 L111.5,303.9 L110.0,304.7 L108.5,305.5 L107.0,306.5 L106.3,307.0"/>
<path d="M605.8,44.1 L605.8,71.3 L604.8,68.3 L604.8,84.4 L601.6,84.4 L601.6,99.0 L598.3,99.0 L598.3,112.0 L595.1,112.0 L595.1,126.1 L591.8,126.1 L591.8,140.6 L588.6,140.6 L588.6,153.8 L585.3,153.8 L585.3,164.7 L582.1,164.7 L582.1,176.4 L578.8,176.4 L578.8,188.5 L575.6,188.5 L575.6,200.2 L572.3,200.2 L572.3,212.0 L569.1,212.0 L569.1,223.0 L566.0,226.5 L565.0,228.7 L564.0,230.5 L563.0,232.2 L562.0,233.8 L561.0,235.5 L560.0,237.4 L559.0,239.2 L558.0,240.9 L557.0,242.4 L556.0,243.7 L555.0,244.9 L554.0,246.0 L553.0,247.0 L552.0,248.0 L551.0,248.9 L550.0,249.9 L549.0,250.8 L548.0,251.6 L547.0,252.3 L546.0,252.9 L545.0,253.5 L544.0,254.0 L543.0,254.4 L542.0,254.9 L541.0,255.3 L540.0,255.7 L539.0,256.0 L538.0,256.4 L537.0,256.8 L536.0,257.1 L535.0,257.5 L534.0,257.8 L533.0,258.1 L532.0,258.3 L531.0,258.6 L530.0,258.8 L529.0,259.0 L528.0,259.1 L527.0,259.3 L526.0,259.5 L525.0,259.6 L524.0,259.7 L523.0,259.9 L522.0,260.0 L521.0,260.1 L520.0,260.2 L519.0,260.4 L518.0,260.5 L517.0,260.6 L516.0,260.7 L515.0,260.8 L514.0,260.9 L513.0,260.9 L512.0,261.0 L511.0,261.1 L510.0,261.1 L509.0,261.2 L508.0,261.2 L507.0,261.2 L506.0,261.3 L505.0,261.3 L504.0,261.3 L503.0,261.4 L502.0,261.4 L501.0,261.4 L500.0,261.5 L499.0,261.5 L498.0,261.5 L497.0,261.6 L496.0,261.6 L495.0,261.6 L494.0,261.7 L493.0,261.7 L492.0,261.7 L491.0,261.7 L490.0,261.8 L489.0,261.8 L488.0,261.8 L487.0,261.8 L486.0,261.9 L485.0,261.9 L484.0,261.9 L483.0,261.9 L482.0,261.9 L481.0,261.9 L480.0,261.9 L479.0,261.9 L478.0,261.9 L477.0,261.9 L476.0,261.9 L475.0,261.9 L474.0,262.0 L473.0,262.0 L472.0,262.0 L471.0,262.0 L470.0,262.0 L469.0,262.0 L468.0,262.0 L467.0,262.0 L466.0,262.1 L465.0,262.1 L464.0,262.1 L463.0,262.1 L462.0,262.1 L461.0,262.2 L460.0,262.2 L459.0,262.2 L458.0,262.3 L457.0,262.3 L456.0,262.3 L455.0,262.3 L454.0,262.4 L453.0,262.4 L452.0,262.4 L451.0,262.5 L450.0,262.5 L449.0,262.5 L448.0,262.6 L447.0,262.6 L446.0,262.6 L445.0,262.7 L444.0,262.7 L443.0,262.8 L442.0,262.8 L441.0,262.8 L440.0,262.9 L439.0,262.9 L438.0,262.9 L437.0,263.0 L436.0,263.0 L435.0,263.1 L434.0,263.1 L433.0,263.1 L432.0,263.2 L431.0,263.2 L430.0,263.3 L429.0,263.3 L428.0,263.3 L427.0,263.4 L426.0,263.4 L425.0,263.5 L424.0,263.5 L423.0,263.5 L422.0,263.6 L421.0,263.6 L420.0,263.7 L419.0,263.7 L418.0,263.8 L417.0,263.8 L416.0,263.9 L415.0,263.9 L414.0,264.0 L413.0,264.0 L412.0,264.0 L411.0,264.1 L410.0,264.1 L409.0,264.2 L408.0,264.2 L407.0,264.3 L406.0,264.3 L405.0,264.4 L404.0,264.4 L403.0,264.5 L402.0,264.5 L401.0,264.5 L400.0,264.6 L399.0,264.6 L398.0,264.7 L397.0,264.7 L396.0,264.7 L395.0,264.8 L394.0,264.8 L393.0,264.9 L392.0,264.9 L391.0,264.9 L390.0,265.0 L389.0,265.0 L388.0,265.0 L387.0,265.1 L386.0,265.1 L385.0,265.1 L384.0,265.1 L383.0,265.2 L382.0,265.2 L381.0,265.2 L380.0,265.3 L379.0,265.3 L378.0,265.3 L377.0,265.4 L376.0,265.4 L375.0,265.4 L374.0,265.4 L373.0,265.5 L372.0,265.5 L371.0,265.5 L370.0,265.6 L369.0,265.6 L368.0,265.6 L367.0,265.7 L366.0,265.7 L365.0,265.7 L364.0,265.7 L363.0,265.8 L362.0,265.8 L361.0,265.8 L360.0,265.9 L359.0,265.9 L358.0,265.9 L357.0,265.9 L356.0,266.0 L355.0,266.0 L354.0,266.0 L353.0,266.1 L352.0,266.1 L351.0,266.1 L350.0,266.2 L349.0,266.2 L348.0,266.2 L347.0,266.2 L346.0,266.3 L345.0,266.3 L344.0,266.3 L343.0,266.4 L342.0,266.4 L341.0,266.4 L340.0,266.4 L339.0,266.5 L338.0,266.5 L337.0,266.5 L336.0,266.6 L335.0,266.6 L334.0,266.6 L333.0,266.7 L332.0,266.7 L331.0,266.7 L330.0,266.8 L329.0,266.8 L328.0,266.8 L327.0,266.9 L326.0,266.9 L325.0,266.9 L324.0,266.9 L323.0,267.0 L322.0,267.0 L321.0,267.0 L320.0,267.1 L319.0,267.1 L318.0,267.1 L317.0,267.2 L316.0,267.2 L315.0,267.2 L314.0,267.3 L313.0,267.3 L312.0,267.3 L311.0,267.3 L310.0,267.4 L309.0,267.4 L308.0,267.4 L307.0,267.5 L306.0,267.5 L305.0,267.5 L304.0,267.5 L303.0,267.5 L302.0,267.6 L301.0,267.6 L300.0,267.6 L299.0,267.6 L298.0,267.6 L297.0,267.6 L296.0,267.6 L295.0,267.6 L294.0,267.6 L293.0,267.6 L292.0,267.5 L291.0,267.5 L290.0,267.5 L290.0,267.3 L288.5,267.3 L287.0,267.3 L285.5,267.3 L284.0,267.3 L282.5,267.3 L281.0,267.3 L279.5,267.3 L278.0,267.3 L276.5,267.3 L275.0,267.3 L273.5,267.3 L272.0,267.3 L270.5,267.4 L269.0,267.4 L267.5,267.4 L266.0,267.4 L264.5,267.4 L263.0,267.4 L261.5,267.4 L260.0,267.4 L258.5,267.4 L257.0,267.4 L255.5,267.4 L254.0,267.4 L252.5,267.4 L251.0,267.4 L249.5,267.4 L248.0,267.4 L246.5,267.5 L245.0,267.5 L243.5,267.5 L242.0,267.5 L240.5,267.5 L239.0,267.5 L237.5,267.5 L236.0,267.5 L234.5,267.5 L233.0,267.6 L231.5,267.6 L230.0,267.6 L228.5,267.6 L227.0,267.6 L225.5,267.6 L224.0,267.7 L222.5,267.7 L221.0,267.7 L219.5,267.7 L218.0,267.8 L216.5,267.8 L215.0,267.8 L213.5,267.9 L212.0,268.0 L210.5,268.1 L209.0,268.3 L207.5,268.5 L206.0,268.7 L204.5,268.9 L203.0,269.1 L201.5,269.3 L200.0,269.4 L198.5,269.6 L197.0,269.8 L195.5,270.0 L194.0,270.1 L192.5,270.3 L191.0,270.5 L189.5,270.6 L188.0,270.7 L186.5,270.8 L185.0,270.9 L183.5,271.0 L182.0,271.1 L180.5,271.2 L179.0,271.3 L177.5,271.5 L176.0,271.6 L174.5,271.8 L173.0,271.9 L171.5,272.1 L170.0,272.3 L168.5,272.6 L167.0,272.8 L165.5,273.1 L164.0,273.3 L162.5,273.6 L161.0,273.9 L159.5,274.2 L158.0,274.5 L156.5,274.9 L155.0,275.3 L153.5,275.7 L152.0,276.2 L150.5,276.8 L149.0,277.6 L147.5,278.3 L146.0,279.0 L144.5,279.8 L143.0,280.5 L141.5,281.3 L140.0,282.2 L138.5,283.1 L137.0,284.0 L135.5,285.0 L134.0,285.9 L132.5,287.0 L131.0,288.0 L129.5,289.1 L128.0,290.3 L126.5,291.3 L125.0,292.4 L123.5,293.4 L122.0,294.3 L120.5,295.2 L119.0,296.0 L117.5,296.9 L116.0,297.7 L114.5,298.6 L113.0,299.4 L111.5,300.2 L110.0,300.9 L108.5,301.8 L107.0,302.7 L105.8,303.5"/>
<path d="M605.8,52.3 L605.8,66.7 L603.5,69.8 L603.5,85.8 L600.3,85.8 L600.3,100.1 L597.0,100.1 L597.0,113.1 L593.8,113.1 L593.8,127.3 L590.5,127.3 L590.5,141.9 L587.3,141.9 L587.3,154.7 L584.0,154.7 L584.0,165.7 L580.8,165.7 L580.8,177.4 L577.5,177.4 L577.5,189.5 L574.3,189.5 L574.3,201.1 L571.0,201.1 L571.0,213.0 L567.8,213.0 L567.8,223.5 L566.0,223.8 L565.0,226.2 L564.0,228.3 L563.0,230.2 L562.0,231.8 L561.0,233.3 L560.0,235.0 L559.0,236.9 L558.0,238.8 L557.0,240.4 L556.0,241.9 L555.0,243.2 L554.0,244.3 L553.0,245.4 L552.0,246.4 L551.0,247.4 L550.0,248.3 L549.0,249.3 L548.0,250.1 L547.0,250.9 L546.0,251.6 L545.0,252.2 L544.0,252.7 L543.0,253.2 L542.0,253.6 L541.0,254.0 L540.0,254.4 L539.0,254.8 L538.0,255.2 L537.0,255.5 L536.0,255.9 L535.0,256.2 L534.0,256.6 L533.0,256.9 L532.0,257.1 L531.0,257.4 L530.0,257.6 L529.0,257.8 L528.0,258.0 L527.0,258.2 L526.0,258.3 L525.0,258.5 L524.0,258.6 L523.0,258.8 L522.0,258.9 L521.0,259.0 L520.0,259.1 L519.0,259.3 L518.0,259.4 L517.0,259.5 L516.0,259.6 L515.0,259.7 L514.0,259.8 L513.0,259.9 L512.0,260.0 L511.0,260.0 L510.0,260.1 L509.0,260.1 L508.0,260.2 L507.0,260.2 L506.0,260.3 L505.0,260.3 L504.0,260.4 L503.0,260.4 L502.0,260.4 L501.0,260.5 L500.0,260.5 L499.0,260.5 L498.0,260.6 L497.0,260.6 L496.0,260.7 L495.0,260.7 L494.0,260.7 L493.0,260.8 L492.0,260.8 L491.0,260.8 L490.0,260.9 L489.0,260.9 L488.0,260.9 L487.0,260.9 L486.0,261.0 L485.0,261.0 L484.0,261.0 L483.0,261.0 L482.0,261.0 L481.0,261.0 L480.0,261.0 L479.0,261.0 L478.0,261.0 L477.0,261.0 L476.0,261.1 L475.0,261.1 L474.0,261.1 L473.0,261.1 L472.0,261.1 L471.0,261.1 L470.0,261.1 L469.0,261.1 L468.0,261.1 L467.0,261.2 L466.0,261.2 L465.0,261.2 L464.0,261.2 L463.0,261.2 L462.0,261.3 L461.0,261.3 L460.0,261.3 L459.0,261.4 L458.0,261.4 L457.0,261.4 L456.0,261.4 L455.0,261.5 L454.0,261.5 L453.0,261.5 L452.0,261.6 L451.0,261.6 L450.0,261.6 L449.0,261.7 L448.0,261.7 L447.0,261.8 L446.0,261.8 L445.0,261.8 L444.0,261.9 L443.0,261.9 L442.0,262.0 L441.0,262.0 L440.0,262.0 L439.0,262.1 L438.0,262.1 L437.0,262.2 L436.0,262.2 L435.0,262.3 L434.0,262.3 L433.0,262.3 L432.0,262.4 L431.0,262.4 L430.0,262.5 L429.0,262.5 L428.0,262.6 L427.0,262.6 L426.0,262.6 L425.0,262.7 L424.0,262.7 L423.0,262.8 L422.0,262.8 L421.0,262.9 L420.0,262.9 L419.0,263.0 L418.0,263.0 L417.0,263.1 L416.0,263.1 L415.0,263.2 L414.0,263.2 L413.0,263.3 L412.0,263.3 L411.0,263.4 L410.0,263.4 L409.0,263.5 L408.0,263.5 L407.0,263.6 L406.0,263.6 L405.0,263.7 L404.0,263.7 L403.0,263.8 L402.0,263.8 L401.0,263.8 L400.0,263.9 L399.0,263.9 L398.0,264.0 L397.0,264.0 L396.0,264.1 L395.0,264.1 L394.0,264.1 L393.0,264.2 L392.0,264.2 L391.0,264.2 L390.0,264.3 L389.0,264.3 L388.0,264.3 L387.0,264.4 L386.0,264.4 L385.0,264.4 L384.0,264.5 L383.0,264.5 L382.0,264.5 L381.0,264.6 L380.0,264.6 L379.0,264.6 L378.0,264.6 L377.0,264.7 L376.0,264.7 L375.0,264.7 L374.0,264.8 L373.0,264.8 L372.0,264.8 L371.0,264.9 L370.0,264.9 L369.0,264.9 L368.0,264.9 L367.0,265.0 L366.0,265.0 L365.0,265.0 L364.0,265.1 L363.0,265.1 L362.0,265.1 L361.0,265.1 L360.0,265.2 L359.0,265.2 L358.0,265.2 L357.0,265.3 L356.0,265.3 L355.0,265.3 L354.0,265.4 L353.0,265.4 L352.0,265.4 L351.0,265.4 L350.0,265.5 L349.0,265.5 L348.0,265.5 L347.0,265.6 L346.0,265.6 L345.0,265.6 L344.0,265.6 L343.0,265.7 L342.0,265.7 L341.0,265.7 L340.0,265.8 L339.0,265.8 L338.0,265.8 L337.0,265.8 L336.0,265.9 L335.0,265.9 L334.0,265.9 L333.0,266.0 L332.0,266.0 L331.0,266.0 L330.0,266.1 L329.0,266.1 L328.0,266.1 L327.0,266.2 L326.0,266.2 L325.0,266.2 L324.0,266.3 L323.0,266.3 L322.0,266.3 L321.0,266.3 L320.0,266.4 L319.0,266.4 L318.0,266.4 L317.0,266.5 L316.0,266.5 L315.0,266.5 L314.0,266.5 L313.0,266.6 L312.0,266.6 L311.0,266.6 L310.0,266.7 L309.0,266.7 L308.0,266.7 L307.0,266.7 L306.0,266.8 L305.0,266.8 L304.0,266.8 L303.0,266.8 L302.0,266.9 L301.0,266.9 L300.0,266.9 L299.0,266.9 L298.0,266.9 L297.0,266.9 L296.0,266.9 L295.0,266.9 L294.0,266.9 L293.0,266.8 L292.0,266.8 L291.0,266.8 L290.0,266.8 L290.0,266.6 L288.5,266.6 L287.0,266.6 L285.5,266.6 L284.0,266.6 L282.5,266.6 L281.0,266.6 L279.5,266.6 L278.0,266.6 L276.5,266.6 L275.0,266.6 L273.5,266.6 L272.0,266.6 L270.5,266.6 L269.0,266.6 L267.5,266.6 L266.0,266.6 L264.5,266.6 L263.0,266.6 L261.5,266.6 L260.0,266.6 L258.5,266.6 L257.0,266.7 L255.5,266.7 L254.0,266.7 L252.5,266.7 L251.0,266.7 L249.5,266.7 L248.0,266.7 L246.5,266.7 L245.0,266.7 L243.5,266.7 L242.0,266.7 L240.5,266.7 L239.0,266.8 L237.5,266.8 L236.0,266.8 L234.5,266.8 L233.0,266.8 L231.5,266.8 L230.0,266.8 L228.5,266.9 L227.0,266.9 L225.5,266.9 L224.0,266.9 L222.5,266.9 L221.0,267.0 L219.5,267.0 L218.0,267.0 L216.5,267.1 L215.0,267.1 L213.5,267.2 L212.0,267.3 L210.5,267.5 L209.0,267.7 L207.5,267.9 L206.0,268.1 L204.5,268.4 L203.0,268.6 L201.5,268.8 L200.0,269.0 L198.5,269.2 L197.0,269.4 L195.5,269.6 L194.0,269.8 L192.5,270.0 L191.0,270.2 L189.5,270.3 L188.0,270.4 L186.5,270.5 L185.0,270.6 L183.5,270.7 L182.0,270.8 L180.5,270.9 L179.0,271.0 L177.5,271.1 L176.0,271.2 L174.5,271.3 L173.0,271.4 L171.5,271.6 L170.0,271.7 L168.5,271.9 L167.0,272.1 L165.5,272.3 L164.0,272.5 L162.5,272.8 L161.0,273.1 L159.5,273.4 L158.0,273.7 L156.5,274.0 L155.0,274.4 L153.5,274.8 L152.0,275.3 L150.5,275.9 L149.0,276.6 L147.5,277.3 L146.0,278.0 L144.5,278.7 L143.0,279.4 L141.5,280.1 L140.0,280.8 L138.5,281.6 L137.0,282.4 L135.5,283.2 L134.0,284.1 L132.5,285.0 L131.0,285.9 L129.5,286.9 L128.0,287.8 L126.5,288.7 L125.0,289.6 L123.5,290.5 L122.0,291.3 L120.5,292.1 L119.0,292.9 L117.5,293.7 L116.0,294.5 L114.5,295.3 L113.0,296.1 L111.5,296.9 L110.0,297.6 L108.5,298.5 L107.0,299.4 L105.5,300.4 L105.4,300.5"/>
<path d="M605.8,61.3 L605.8,62.4 L605.6,56.5 L605.6,70.6 L602.4,70.6 L602.4,86.5 L599.1,86.5 L599.1,100.5 L595.9,100.5 L595.9,113.6 L592.6,113.6 L592.6,127.8 L589.4,127.8 L589.4,142.4 L586.1,142.4 L586.1,155.0 L582.9,155.0 L582.9,166.1 L579.6,166.1 L579.6,177.8 L576.4,177.8 L576.4,189.9 L573.1,189.9 L573.1,201.4 L569.9,201.4 L569.9,213.3 L566.6,213.3 L566.6,223.6 L566.0,220.9 L565.0,223.6 L564.0,225.9 L563.0,228.0 L562.0,229.8 L561.0,231.4 L560.0,232.9 L559.0,234.6 L558.0,236.5 L557.0,238.3 L556.0,240.0 L555.0,241.4 L554.0,242.6 L553.0,243.8 L552.0,244.8 L551.0,245.8 L550.0,246.8 L549.0,247.7 L548.0,248.6 L547.0,249.5 L546.0,250.2 L545.0,250.8 L544.0,251.4 L543.0,251.9 L542.0,252.4 L541.0,252.8 L540.0,253.2 L539.0,253.5 L538.0,253.9 L537.0,254.3 L536.0,254.7 L535.0,255.0 L534.0,255.4 L533.0,255.7 L532.0,255.9 L531.0,256.2 L530.0,256.4 L529.0,256.6 L528.0,256.8 L527.0,257.0 L526.0,257.2 L525.0,257.3 L524.0,257.5 L523.0,257.6 L522.0,257.8 L521.0,257.9 L520.0,258.0 L519.0,258.2 L518.0,258.3 L517.0,258.4 L516.0,258.5 L515.0,258.6 L514.0,258.7 L513.0,258.8 L512.0,258.9 L511.0,259.0 L510.0,259.1 L509.0,259.1 L508.0,259.2 L507.0,259.2 L506.0,259.3 L505.0,259.3 L504.0,259.4 L503.0,259.4 L502.0,259.5 L501.0,259.5 L500.0,259.6 L499.0,259.6 L498.0,259.6 L497.0,259.7 L496.0,259.7 L495.0,259.8 L494.0,259.8 L493.0,259.8 L492.0,259.9 L491.0,259.9 L490.0,260.0 L489.0,260.0 L488.0,260.0 L487.0,260.0 L486.0,260.1 L485.0,260.1 L484.0,260.1 L483.0,260.1 L482.0,260.1 L481.0,260.1 L480.0,260.1 L479.0,260.2 L478.0,260.2 L477.0,260.2 L476.0,260.2 L475.0,260.2 L474.0,260.2 L473.0,260.2 L472.0,260.2 L471.0,260.2 L470.0,260.2 L469.0,260.2 L468.0,260.3 L467.0,260.3 L466.0,260.3 L465.0,260.3 L464.0,260.3 L463.0,260.4 L462.0,260.4 L461.0,260.4 L460.0,260.4 L459.0,260.5 L458.0,260.5 L457.0,260.5 L456.0,260.6 L455.0,260.6 L454.0,260.6 L453.0,260.7 L452.0,260.7 L451.0,260.8 L450.0,260.8 L449.0,260.8 L448.0,260.9 L447.0,260.9 L446.0,261.0 L445.0,261.0 L444.0,261.0 L443.0,261.1 L442.0,261.1 L441.0,261.2 L440.0,261.2 L439.0,261.3 L438.0,261.3 L437.0,261.4 L436.0,261.4 L435.0,261.4 L434.0,261.5 L433.0,261.5 L432.0,261.6 L431.0,261.6 L430.0,261.7 L429.0,261.7 L428.0,261.8 L427.0,261.8 L426.0,261.9 L425.0,261.9 L424.0,262.0 L423.0,262.0 L422.0,262.1 L421.0,262.1 L420.0,262.2 L419.0,262.2 L418.0,262.3 L417.0,262.3 L416.0,262.4 L415.0,262.4 L414.0,262.5 L413.0,262.6 L412.0,262.6 L411.0,262.7 L410.0,262.7 L409.0,262.8 L408.0,262.8 L407.0,262.9 L406.0,262.9 L405.0,263.0 L404.0,263.0 L403.0,263.1 L402.0,263.1 L401.0,263.2 L400.0,263.2 L399.0,263.2 L398.0,263.3 L397.0,263.3 L396.0,263.4 L395.0,263.4 L394.0,263.4 L393.0,263.5 L392.0,263.5 L391.0,263.6 L390.0,263.6 L389.0,263.6 L388.0,263.7 L387.0,263.7 L386.0,263.7 L385.0,263.7 L384.0,263.8 L383.0,263.8 L382.0,263.8 L381.0,263.9 L380.0,263.9 L379.0,263.9 L378.0,264.0 L377.0,264.0 L376.0,264.0 L375.0,264.0 L374.0,264.1 L373.0,264.1 L372.0,264.1 L371.0,264.2 L370.0,264.2 L369.0,264.2 L368.0,264.3 L367.0,264.3 L366.0,264.3 L365.0,264.3 L364.0,264.4 L363.0,264.4 L362.0,264.4 L361.0,264.5 L360.0,264.5 L359.0,264.5 L358.0,264.5 L357.0,264.6 L356.0,264.6 L355.0,264.6 L354.0,264.7 L353.0,264.7 L352.0,264.7 L351.0,264.8 L350.0,264.8 L349.0,264.8 L348.0,264.8 L347.0,264.9 L346.0,264.9 L345.0,264.9 L344.0,265.0 L343.0,265.0 L342.0,265.0 L341.0,265.0 L340.0,265.1 L339.0,265.1 L338.0,265.1 L337.0,265.2 L336.0,265.2 L335.0,265.2 L334.0,265.2 L333.0,265.3 L332.0,265.3 L331.0,265.3 L330.0,265.4 L329.0,265.4 L328.0,265.4 L327.0,265.5 L326.0,265.5 L325.0,265.5 L324.0,265.6 L323.0,265.6 L322.0,265.6 L321.0,265.6 L320.0,265.7 L319.0,265.7 L318.0,265.7 L317.0,265.8 L316.0,265.8 L315.0,265.8 L314.0,265.8 L313.0,265.9 L312.0,265.9 L311.0,265.9 L310.0,266.0 L309.0,266.0 L308.0,266.0 L307.0,266.0 L306.0,266.1 L305.0,266.1 L304.0,266.1 L303.0,266.1 L302.0,266.1 L301.0,266.2 L300.0,266.2 L299.0,266.2 L298.0,266.2 L297.0,266.2 L296.0,266.2 L295.0,266.2 L294.0,266.1 L293.0,266.1 L292.0,266.1 L291.0,266.1 L290.0,266.0 L290.0,265.9 L288.5,265.9 L287.0,265.9 L285.5,265.9 L284.0,265.9 L282.5,265.9 L281.0,265.9 L279.5,265.9 L278.0,265.9 L276.5,265.9 L275.0,265.9 L273.5,265.9 L272.0,265.9 L270.5,265.9 L269.0,265.9 L267.5,265.9 L266.0,265.9 L264.5,265.9 L263.0,265.9 L261.5,265.9 L260.0,265.9 L258.5,265.9 L257.0,265.9 L255.5,265.9 L254.0,265.9 L252.5,265.9 L251.0,265.9 L249.5,265.9 L248.0,266.0 L246.5,266.0 L245.0,266.0 L243.5,266.0 L242.0,266.0 L240.5,266.0 L239.0,266.0 L237.5,266.0 L236.0,266.0 L234.5,266.0 L233.0,266.1 L231.5,266.1 L230.0,266.1 L228.5,266.1 L227.0,266.1 L225.5,266.2 L224.0,266.2 L222.5,266.2 L221.0,266.2 L219.5,266.3 L218.0,266.3 L216.5,266.4 L215.0,266.4 L213.5,266.5 L212.0,266.6 L210.5,266.8 L209.0,267.0 L207.5,267.3 L206.0,267.6 L204.5,267.8 L203.0,268.1 L201.5,268.4 L200.0,268.6 L198.5,268.8 L197.0,269.1 L195.5,269.3 L194.0,269.5 L192.5,269.7 L191.0,269.9 L189.5,270.0 L188.0,270.1 L186.5,270.2 L185.0,270.3 L183.5,270.4 L182.0,270.4 L180.5,270.5 L179.0,270.6 L177.5,270.7 L176.0,270.7 L174.5,270.8 L173.0,270.9 L171.5,271.0 L170.0,271.2 L168.5,271.3 L167.0,271.4 L165.5,271.6 L164.0,271.8 L162.5,272.0 L161.0,272.2 L159.5,272.5 L158.0,272.8 L156.5,273.2 L155.0,273.6 L153.5,274.0 L152.0,274.4 L150.5,275.0 L149.0,275.7 L147.5,276.3 L146.0,277.0 L144.5,277.7 L143.0,278.3 L141.5,278.9 L140.0,279.6 L138.5,280.2 L137.0,280.9 L135.5,281.6 L134.0,282.3 L132.5,283.1 L131.0,283.9 L129.5,284.7 L128.0,285.6 L126.5,286.4 L125.0,287.1 L123.5,287.9 L122.0,288.6 L120.5,289.4 L119.0,290.1 L117.5,290.9 L116.0,291.7 L114.5,292.5 L113.0,293.3 L111.5,294.1 L110.0,295.0 L108.5,295.8 L107.0,296.8 L105.5,297.9 L105.1,298.2"/>
<path d="M470.0,255.3 L471.0,255.3 L472.0,255.3 L473.0,255.3 L474.0,255.3 L475.0,255.3 L476.0,255.3 L477.0,255.3 L478.0,255.3 L479.0,255.3 L480.0,255.3 L481.0,255.3 L482.0,255.3 L483.0,255.3 L484.0,255.3 L485.0,255.2 L486.0,255.2 L487.0,255.2 L488.0,255.1 L489.0,255.1 L490.0,255.0 L491.0,255.0 L492.0,254.9 L493.0,254.8 L494.0,254.8 L495.0,254.7 L496.0,254.6 L497.0,254.6 L498.0,254.5 L499.0,254.4 L500.0,254.4 L501.0,254.3 L502.0,254.2 L503.0,254.2 L504.0,254.1 L505.0,254.0 L506.0,253.9 L507.0,253.8 L508.0,253.7 L509.0,253.6 L510.0,253.5 L511.0,253.4 L512.0,253.3 L513.0,253.2 L514.0,253.0 L515.0,252.9 L516.0,252.7 L517.0,252.6 L518.0,252.4 L519.0,252.2 L520.0,252.1 L521.0,251.9 L522.0,251.7 L523.0,251.6 L524.0,251.4 L525.0,251.2 L526.0,251.0 L527.0,250.8 L528.0,250.6 L529.0,250.3 L530.0,250.0 L531.0,249.7 L532.0,249.4 L533.0,249.1 L534.0,248.7 L535.0,248.3 L536.0,247.9 L537.0,247.6 L538.0,247.2 L539.0,246.8 L540.0,246.4 L541.0,245.9 L542.0,245.4 L543.0,244.7 L544.0,243.9 L545.0,243.1 L546.0,242.2 L547.0,241.2 L548.0,240.3 L549.0,239.3 L550.0,238.1 L551.0,236.8 L552.0,235.2 L553.0,233.4 L554.0,231.7 L555.0,230.0 L556.0,228.6 L557.0,227.1 L558.0,225.4 L558.6,227.0 L558.6,220.4 L561.9,220.4 L561.9,209.6 L565.1,209.6 L565.1,198.1 L568.4,198.1 L568.4,186.5 L571.6,186.5 L571.6,174.5 L574.9,174.5 L574.9,162.9 L578.1,162.9 L578.1,151.9 L581.4,151.9 L581.4,138.6 L584.6,138.6 L584.6,124.0 L587.9,124.0 L587.9,109.9 L591.1,109.9 L591.1,97.1 L594.4,97.1 L594.4,83.0 L597.6,83.0 L597.6,67.8 L600.9,67.8 L600.9,54.5 L604.1,54.5 L604.1,41.8 L605.9,41.8 L605.9,41.2"/>
<path d="M470.0,256.1 L471.0,256.1 L472.0,256.1 L473.0,256.1 L474.0,256.1 L475.0,256.1 L476.0,256.2 L477.0,256.2 L478.0,256.2 L479.0,256.2 L480.0,256.2 L481.0,256.2 L482.0,256.1 L483.0,256.1 L484.0,256.1 L485.0,256.1 L486.0,256.0 L487.0,256.0 L488.0,256.0 L489.0,255.9 L490.0,255.9 L491.0,255.8 L492.0,255.7 L493.0,255.7 L494.0,255.6 L495.0,255.6 L496.0,255.5 L497.0,255.4 L498.0,255.4 L499.0,255.3 L500.0,255.3 L501.0,255.2 L502.0,255.1 L503.0,255.1 L504.0,255.0 L505.0,254.9 L506.0,254.8 L507.0,254.7 L508.0,254.7 L509.0,254.6 L510.0,254.5 L511.0,254.4 L512.0,254.3 L513.0,254.1 L514.0,254.0 L515.0,253.9 L516.0,253.7 L517.0,253.6 L518.0,253.4 L519.0,253.3 L520.0,253.1 L521.0,252.9 L522.0,252.8 L523.0,252.6 L524.0,252.4 L525.0,252.2 L526.0,252.1 L527.0,251.8 L528.0,251.6 L529.0,251.4 L530.0,251.1 L531.0,250.9 L532.0,250.5 L533.0,250.2 L534.0,249.8 L535.0,249.5 L536.0,249.1 L537.0,248.7 L538.0,248.3 L539.0,248.0 L540.0,247.6 L541.0,247.1 L542.0,246.6 L543.0,246.0 L544.0,245.3 L545.0,244.5 L546.0,243.6 L547.0,242.6 L548.0,241.7 L549.0,240.7 L550.0,239.7 L551.0,238.5 L552.0,237.1 L553.0,235.5 L554.0,233.7 L555.0,231.9 L556.0,230.3 L557.0,228.8 L558.0,227.3 L559.2,228.0 L559.2,221.7 L562.4,221.7 L562.4,211.4 L565.7,211.4 L565.7,199.6 L568.9,199.6 L568.9,188.2 L572.2,188.2 L572.2,176.1 L575.4,176.1 L575.4,164.5 L578.7,164.5 L578.7,153.4 L581.9,153.4 L581.9,140.6 L585.2,140.6 L585.2,126.0 L588.4,126.0 L588.4,111.8 L591.7,111.8 L591.7,98.8 L594.9,98.8 L594.9,85.0 L598.2,85.0 L598.2,69.6 L601.4,69.6 L601.4,56.0 L604.7,56.0 L604.7,43.4 L605.9,43.4 L605.9,45.0"/>
<path d="M470.0,257.0 L471.0,257.0 L472.0,257.0 L473.0,257.0 L474.0,257.0 L475.0,257.0 L476.0,257.0 L477.0,257.0 L478.0,257.0 L479.0,257.0 L480.0,257.0 L481.0,257.0 L482.0,257.0 L483.0,256.9 L484.0,256.9 L485.0,256.9 L486.0,256.9 L487.0,256.8 L488.0,256.8 L489.0,256.7 L490.0,256.7 L491.0,256.6 L492.0,256.6 L493.0,256.5 L494.0,256.5 L495.0,256.4 L496.0,256.4 L497.0,256.3 L498.0,256.3 L499.0,256.2 L500.0,256.1 L501.0,256.1 L502.0,256.0 L503.0,256.0 L504.0,255.9 L505.0,255.8 L506.0,255.7 L507.0,255.7 L508.0,255.6 L509.0,255.5 L510.0,255.4 L511.0,255.3 L512.0,255.2 L513.0,255.1 L514.0,255.0 L515.0,254.8 L516.0,254.7 L517.0,254.6 L518.0,254.4 L519.0,254.3 L520.0,254.1 L521.0,254.0 L522.0,253.8 L523.0,253.6 L524.0,253.5 L525.0,253.3 L526.0,253.1 L527.0,252.9 L528.0,252.7 L529.0,252.5 L530.0,252.2 L531.0,252.0 L532.0,251.7 L533.0,251.3 L534.0,251.0 L535.0,250.6 L536.0,250.2 L537.0,249.9 L538.0,249.5 L539.0,249.1 L540.0,248.7 L541.0,248.3 L542.0,247.8 L543.0,247.3 L544.0,246.6 L545.0,245.8 L546.0,245.0 L547.0,244.1 L548.0,243.1 L549.0,242.2 L550.0,241.2 L551.0,240.1 L552.0,238.9 L553.0,237.4 L554.0,235.7 L555.0,233.9 L556.0,232.2 L557.0,230.6 L558.0,229.1 L561.0,226.8 L561.0,219.3 L564.3,219.3 L564.3,207.8 L567.5,207.8 L567.5,196.5 L570.8,196.5 L570.8,184.7 L574.0,184.7 L574.0,172.8 L577.3,172.8 L577.3,161.1 L580.5,161.1 L580.5,150.2 L583.8,150.2 L583.8,136.3 L587.0,136.3 L587.0,121.8 L590.3,121.8 L590.3,107.9 L593.5,107.9 L593.5,95.0 L596.8,95.0 L596.8,80.4 L600.0,80.4 L600.0,65.2 L603.3,65.2 L603.3,52.1 L605.9,52.1 L605.9,48.4"/>
<path d="M470.0,257.8 L471.0,257.8 L472.0,257.8 L473.0,257.8 L474.0,257.8 L475.0,257.8 L476.0,257.8 L477.0,257.8 L478.0,257.8 L479.0,257.8 L480.0,257.8 L481.0,257.8 L482.0,257.8 L483.0,257.8 L484.0,257.7 L485.0,257.7 L486.0,257.7 L487.0,257.7 L488.0,257.6 L489.0,257.6 L490.0,257.5 L491.0,257.5 L492.0,257.4 L493.0,257.4 L494.0,257.3 L495.0,257.3 L496.0,257.2 L497.0,257.2 L498.0,257.1 L499.0,257.1 L500.0,257.0 L501.0,257.0 L502.0,256.9 L503.0,256.9 L504.0,256.8 L505.0,256.7 L506.0,256.7 L507.0,256.6 L508.0,256.5 L509.0,256.4 L510.0,256.4 L511.0,256.3 L512.0,256.2 L513.0,256.1 L514.0,256.0 L515.0,255.8 L516.0,255.7 L517.0,255.6 L518.0,255.4 L519.0,255.3 L520.0,255.1 L521.0,255.0 L522.0,254.8 L523.0,254.7 L524.0,254.5 L525.0,254.3 L526.0,254.2 L527.0,254.0 L528.0,253.8 L529.0,253.6 L530.0,253.3 L531.0,253.1 L532.0,252.8 L533.0,252.5 L534.0,252.1 L535.0,251.8 L536.0,251.4 L537.0,251.0 L538.0,250.6 L539.0,250.2 L540.0,249.9 L541.0,249.5 L542.0,249.0 L543.0,248.5 L544.0,247.9 L545.0,247.2 L546.0,246.4 L547.0,245.5 L548.0,244.5 L549.0,243.6 L550.0,242.6 L551.0,241.6 L552.0,240.5 L553.0,239.2 L554.0,237.7 L555.0,236.0 L556.0,234.2 L557.0,232.4 L558.0,230.8 L558.5,232.6 L558.5,227.5 L561.8,227.5 L561.8,220.1 L565.0,220.1 L565.0,208.8 L568.3,208.8 L568.3,197.4 L571.5,197.4 L571.5,185.6 L574.8,185.6 L574.8,173.6 L578.0,173.6 L578.0,162.0 L581.3,162.0 L581.3,151.0 L584.5,151.0 L584.5,137.3 L587.8,137.3 L587.8,122.8 L591.0,122.8 L591.0,108.9 L594.3,108.9 L594.3,96.0 L597.5,96.0 L597.5,81.4 L600.8,81.4 L600.8,66.0 L604.0,66.0 L604.0,52.8 L605.9,52.8 L605.9,51.8"/>
<path d="M470.0,258.6 L471.0,258.6 L472.0,258.6 L473.0,258.6 L474.0,258.6 L475.0,258.6 L476.0,258.6 L477.0,258.6 L478.0,258.6 L479.0,258.6 L480.0,258.6 L481.0,258.6 L482.0,258.6 L483.0,258.6 L484.0,258.6 L485.0,258.5 L486.0,258.5 L487.0,258.5 L488.0,258.5 L489.0,258.4 L490.0,258.4 L491.0,258.3 L492.0,258.3 L493.0,258.2 L494.0,258.2 L495.0,258.1 L496.0,258.1 L497.0,258.1 L498.0,258.0 L499.0,258.0 L500.0,257.9 L501.0,257.9 L502.0,257.8 L503.0,257.8 L504.0,257.7 L505.0,257.6 L506.0,257.6 L507.0,257.5 L508.0,257.4 L509.0,257.4 L510.0,257.3 L511.0,257.2 L512.0,257.1 L513.0,257.0 L514.0,256.9 L515.0,256.8 L516.0,256.7 L517.0,256.6 L518.0,256.4 L519.0,256.3 L520.0,256.2 L521.0,256.0 L522.0,255.9 L523.0,255.7 L524.0,255.6 L525.0,255.4 L526.0,255.2 L527.0,255.0 L528.0,254.8 L529.0,254.6 L530.0,254.4 L531.0,254.2 L532.0,253.9 L533.0,253.6 L534.0,253.2 L535.0,252.9 L536.0,252.5 L537.0,252.2 L538.0,251.8 L539.0,251.4 L540.0,251.0 L541.0,250.6 L542.0,250.2 L543.0,249.7 L544.0,249.1 L545.0,248.5 L546.0,247.7 L547.0,246.9 L548.0,246.0 L549.0,245.0 L550.0,244.1 L551.0,243.1 L552.0,242.0 L553.0,240.9 L554.0,239.5 L555.0,238.0 L556.0,236.3 L557.0,234.4 L558.0,232.7 L559.8,232.5 L559.8,227.2 L563.0,227.2 L563.0,219.4 L566.3,219.4 L566.3,207.7 L569.5,207.7 L569.5,196.4 L572.8,196.4 L572.8,184.5 L576.0,184.5 L576.0,172.6 L579.3,172.6 L579.3,161.0 L582.5,161.0 L582.5,150.0 L585.8,150.0 L585.8,136.0 L589.0,136.0 L589.0,121.6 L592.3,121.6 L592.3,107.7 L595.5,107.7 L595.5,94.8 L598.8,94.8 L598.8,79.9 L602.0,79.9 L602.0,64.5 L605.3,64.5 L605.3,51.4 L605.9,51.4 L605.9,55.2"/>
<path d="M470.0,259.4 L471.0,259.4 L472.0,259.4 L473.0,259.4 L474.0,259.4 L475.0,259.4 L476.0,259.4 L477.0,259.4 L478.0,259.4 L479.0,259.4 L480.0,259.4 L481.0,259.4 L482.0,259.4 L483.0,259.4 L484.0,259.4 L485.0,259.4 L486.0,259.4 L487.0,259.3 L488.0,259.3 L489.0,259.3 L490.0,259.2 L491.0,259.2 L492.0,259.1 L493.0,259.1 L494.0,259.1 L495.0,259.0 L496.0,259.0 L497.0,258.9 L498.0,258.9 L499.0,258.8 L500.0,258.8 L501.0,258.7 L502.0,258.7 L503.0,258.7 L504.0,258.6 L505.0,258.5 L506.0,258.5 L507.0,258.4 L508.0,258.4 L509.0,258.3 L510.0,258.2 L511.0,258.2 L512.0,258.1 L513.0,258.0 L514.0,257.9 L515.0,257.8 L516.0,257.7 L517.0,257.6 L518.0,257.4 L519.0,257.3 L520.0,257.2 L521.0,257.0 L522.0,256.9 L523.0,256.7 L524.0,256.6 L525.0,256.4 L526.0,256.3 L527.0,256.1 L528.0,255.9 L529.0,255.7 L530.0,255.5 L531.0,255.3 L532.0,255.0 L533.0,254.7 L534.0,254.4 L535.0,254.0 L536.0,253.7 L537.0,253.3 L538.0,252.9 L539.0,252.5 L540.0,252.2 L541.0,251.8 L542.0,251.3 L543.0,250.9 L544.0,250.4 L545.0,249.8 L546.0,249.1 L547.0,248.3 L548.0,247.4 L549.0,246.5 L550.0,245.5 L551.0,244.5 L552.0,243.5 L553.0,242.4 L554.0,241.2 L555.0,239.9 L556.0,238.3 L557.0,236.5 L558.0,234.7 L559.8,234.4 L559.8,229.2 L563.0,229.2 L563.0,222.2 L566.3,222.2 L566.3,211.4 L569.5,211.4 L569.5,199.7 L572.8,199.7 L572.8,188.1 L576.0,188.1 L576.0,176.0 L579.3,176.0 L579.3,164.3 L582.5,164.3 L582.5,153.4 L585.8,153.4 L585.8,140.2 L589.0,140.2 L589.0,125.7 L592.3,125.7 L592.3,111.5 L595.5,111.5 L595.5,98.6 L598.8,98.6 L598.8,84.3 L602.0,84.3 L602.0,68.5 L605.3,68.5 L605.3,54.8 L605.9,54.8 L605.9,58.8"/>
<path d="M470.0,260.3 L471.0,260.3 L472.0,260.3 L473.0,260.3 L474.0,260.3 L475.0,260.3 L476.0,260.3 L477.0,260.3 L478.0,260.3 L479.0,260.3 L480.0,260.3 L481.0,260.3 L482.0,260.2 L483.0,260.2 L484.0,260.2 L485.0,260.2 L486.0,260.2 L487.0,260.2 L488.0,260.1 L489.0,260.1 L490.0,260.1 L491.0,260.0 L492.0,260.0 L493.0,259.9 L494.0,259.9 L495.0,259.9 L496.0,259.8 L497.0,259.8 L498.0,259.7 L499.0,259.7 L500.0,259.7 L501.0,259.6 L502.0,259.6 L503.0,259.5 L504.0,259.5 L505.0,259.5 L506.0,259.4 L507.0,259.4 L508.0,259.3 L509.0,259.2 L510.0,259.2 L511.0,259.1 L512.0,259.0 L513.0,259.0 L514.0,258.9 L515.0,258.8 L516.0,258.7 L517.0,258.6 L518.0,258.4 L519.0,258.3 L520.0,258.2 L521.0,258.0 L522.0,257.9 L523.0,257.8 L524.0,257.6 L525.0,257.5 L526.0,257.3 L527.0,257.2 L528.0,257.0 L529.0,256.8 L530.0,256.6 L531.0,256.3 L532.0,256.1 L533.0,255.8 L534.0,255.5 L535.0,255.2 L536.0,254.8 L537.0,254.4 L538.0,254.1 L539.0,253.7 L540.0,253.3 L541.0,252.9 L542.0,252.5 L543.0,252.1 L544.0,251.6 L545.0,251.0 L546.0,250.4 L547.0,249.6 L548.0,248.8 L549.0,247.9 L550.0,246.9 L551.0,246.0 L552.0,245.0 L553.0,244.0 L554.0,242.9 L555.0,241.6 L556.0,240.2 L557.0,238.6 L558.0,236.8 L560.5,235.1 L560.5,229.8 L563.8,229.8 L563.8,222.9 L567.0,222.9 L567.0,212.3 L570.3,212.3 L570.3,200.5 L573.5,200.5 L573.5,188.9 L576.8,188.9 L576.8,176.8 L580.0,176.8 L580.0,165.1 L583.3,165.1 L583.3,154.1 L586.5,154.1 L586.5,141.2 L589.8,141.2 L589.8,126.6 L593.0,126.6 L593.0,112.4 L596.3,112.4 L596.3,99.4 L599.5,99.4 L599.5,85.2 L602.8,85.2 L602.8,69.2 L606.0,69.2 L606.0,55.4 L605.9,55.4 L605.9,62.5"/>
<path d="M470.0,261.1 L471.0,261.1 L472.0,261.1 L473.0,261.1 L474.0,261.1 L475.0,261.1 L476.0,261.1 L477.0,261.1 L478.0,261.1 L479.0,261.1 L480.0,261.1 L481.0,261.1 L482.0,261.1 L483.0,261.1 L484.0,261.0 L485.0,261.0 L486.0,261.0 L487.0,261.0 L488.0,261.0 L489.0,260.9 L490.0,260.9 L491.0,260.9 L492.0,260.8 L493.0,260.8 L494.0,260.8 L495.0,260.7 L496.0,260.7 L497.0,260.7 L498.0,260.6 L499.0,260.6 L500.0,260.5 L501.0,260.5 L502.0,260.5 L503.0,260.4 L504.0,260.4 L505.0,260.4 L506.0,260.3 L507.0,260.3 L508.0,260.2 L509.0,260.2 L510.0,260.1 L511.0,260.1 L512.0,260.0 L513.0,259.9 L514.0,259.8 L515.0,259.7 L516.0,259.6 L517.0,259.5 L518.0,259.4 L519.0,259.3 L520.0,259.2 L521.0,259.1 L522.0,258.9 L523.0,258.8 L524.0,258.7 L525.0,258.5 L526.0,258.4 L527.0,258.2 L528.0,258.0 L529.0,257.8 L530.0,257.6 L531.0,257.4 L532.0,257.2 L533.0,256.9 L534.0,256.6 L535.0,256.3 L536.0,256.0 L537.0,255.6 L538.0,255.2 L539.0,254.8 L540.0,254.5 L541.0,254.1 L542.0,253.7 L543.0,253.2 L544.0,252.8 L545.0,252.2 L546.0,251.6 L547.0,251.0 L548.0,250.2 L549.0,249.3 L550.0,248.4 L551.0,247.4 L552.0,246.4 L553.0,245.4 L554.0,244.4 L555.0,243.2 L556.0,242.0 L557.0,240.5 L558.0,238.9 L560.8,236.7 L560.8,231.2 L564.0,231.2 L564.0,224.8 L567.3,224.8 L567.3,215.0 L570.5,215.0 L570.5,202.9 L573.8,202.9 L573.8,191.4 L577.0,191.4 L577.0,179.3 L580.3,179.3 L580.3,167.6 L583.5,167.6 L583.5,156.5 L586.8,156.5 L586.8,144.3 L590.0,144.3 L590.0,129.6 L593.3,129.6 L593.3,115.4 L596.5,115.4 L596.5,102.1 L599.8,102.1 L599.8,88.3 L603.0,88.3 L603.0,72.3 L605.9,72.3 L605.9,66.4"/>
<path d="M470.0,261.9 L471.0,261.9 L472.0,261.9 L473.0,261.9 L474.0,261.9 L475.0,261.9 L476.0,261.9 L477.0,261.9 L478.0,261.9 L479.0,261.9 L480.0,261.9 L481.0,261.9 L482.0,261.9 L483.0,261.9 L484.0,261.9 L485.0,261.9 L486.0,261.8 L487.0,261.8 L488.0,261.8 L489.0,261.8 L490.0,261.7 L491.0,261.7 L492.0,261.7 L493.0,261.6 L494.0,261.6 L495.0,261.6 L496.0,261.6 L497.0,261.5 L498.0,261.5 L499.0,261.5 L500.0,261.4 L501.0,261.4 L502.0,261.4 L503.0,261.3 L504.0,261.3 L505.0,261.3 L506.0,261.2 L507.0,261.2 L508.0,261.2 L509.0,261.1 L510.0,261.1 L511.0,261.0 L512.0,261.0 L513.0,260.9 L514.0,260.8 L515.0,260.7 L516.0,260.6 L517.0,260.5 L518.0,260.4 L519.0,260.3 L520.0,260.2 L521.0,260.1 L522.0,259.9 L523.0,259.8 L524.0,259.7 L525.0,259.6 L526.0,259.4 L527.0,259.3 L528.0,259.1 L529.0,258.9 L530.0,258.7 L531.0,258.5 L532.0,258.3 L533.0,258.0 L534.0,257.7 L535.0,257.4 L536.0,257.1 L537.0,256.7 L538.0,256.4 L539.0,256.0 L540.0,255.6 L541.0,255.2 L542.0,254.8 L543.0,254.4 L544.0,253.9 L545.0,253.4 L546.0,252.9 L547.0,252.2 L548.0,251.5 L549.0,250.7 L550.0,249.8 L551.0,248.9 L552.0,247.9 L553.0,246.9 L554.0,245.9 L555.0,244.8 L556.0,243.6 L557.0,242.3 L558.0,240.8 L560.3,239.8 L560.3,233.8 L563.5,233.8 L563.5,228.3 L566.8,228.3 L566.8,220.1 L570.0,220.1 L570.0,208.1 L573.3,208.1 L573.3,196.7 L576.5,196.7 L576.5,184.7 L579.8,184.7 L579.8,172.8 L583.0,172.8 L583.0,161.3 L586.3,161.3 L586.3,150.2 L589.5,150.2 L589.5,136.1 L592.8,136.1 L592.8,121.7 L596.0,121.7 L596.0,107.9 L599.3,107.9 L599.3,94.9 L602.5,94.9 L602.5,79.5 L605.8,79.5 L605.8,63.8 L605.9,63.8 L605.9,70.6"/>
<path d="M470.0,262.7 L471.0,262.7 L472.0,262.7 L473.0,262.7 L474.0,262.7 L475.0,262.7 L476.0,262.7 L477.0,262.7 L478.0,262.7 L479.0,262.7 L480.0,262.7 L481.0,262.7 L482.0,262.7 L483.0,262.7 L484.0,262.7 L485.0,262.7 L486.0,262.7 L487.0,262.6 L488.0,262.6 L489.0,262.6 L490.0,262.6 L491.0,262.6 L492.0,262.5 L493.0,262.5 L494.0,262.5 L495.0,262.4 L496.0,262.4 L497.0,262.4 L498.0,262.4 L499.0,262.3 L500.0,262.3 L501.0,262.3 L502.0,262.3 L503.0,262.2 L504.0,262.2 L505.0,262.2 L506.0,262.1 L507.0,262.1 L508.0,262.1 L509.0,262.0 L510.0,262.0 L511.0,262.0 L512.0,261.9 L513.0,261.8 L514.0,261.8 L515.0,261.7 L516.0,261.6 L517.0,261.5 L518.0,261.4 L519.0,261.3 L520.0,261.2 L521.0,261.1 L522.0,261.0 L523.0,260.8 L524.0,260.7 L525.0,260.6 L526.0,260.5 L527.0,260.3 L528.0,260.1 L529.0,260.0 L530.0,259.8 L531.0,259.6 L532.0,259.4 L533.0,259.1 L534.0,258.8 L535.0,258.5 L536.0,258.2 L537.0,257.9 L538.0,257.5 L539.0,257.1 L540.0,256.8 L541.0,256.4 L542.0,256.0 L543.0,255.6 L544.0,255.1 L545.0,254.6 L546.0,254.1 L547.0,253.5 L548.0,252.8 L549.0,252.1 L550.0,251.2 L551.0,250.3 L552.0,249.3 L553.0,248.4 L554.0,247.4 L555.0,246.3 L556.0,245.2 L557.0,244.0 L558.0,242.7 L558.3,244.4 L558.3,239.6 L561.5,239.6 L561.5,233.7 L564.8,233.7 L564.8,227.9 L568.0,227.9 L568.0,219.2 L571.3,219.2 L571.3,207.0 L574.5,207.0 L574.5,195.7 L577.8,195.7 L577.8,183.5 L581.0,183.5 L581.0,171.7 L584.3,171.7 L584.3,160.3 L587.5,160.3 L587.5,149.1 L590.8,149.1 L590.8,134.7 L594.0,134.7 L594.0,120.3 L597.3,120.3 L597.3,106.7 L600.5,106.7 L600.5,93.4 L603.8,93.4 L603.8,77.7 L605.9,77.7 L605.9,75.2"/>
<path d="M470.0,263.6 L471.0,263.6 L472.0,263.6 L473.0,263.6 L474.0,263.6 L475.0,263.5 L476.0,263.5 L477.0,263.5 L478.0,263.5 L479.0,263.5 L480.0,263.5 L481.0,263.5 L482.0,263.5 L483.0,263.5 L484.0,263.5 L485.0,263.5 L486.0,263.5 L487.0,263.5 L488.0,263.5 L489.0,263.4 L490.0,263.4 L491.0,263.4 L492.0,263.4 L493.0,263.3 L494.0,263.3 L495.0,263.3 L496.0,263.3 L497.0,263.3 L498.0,263.2 L499.0,263.2 L500.0,263.2 L501.0,263.2 L502.0,263.1 L503.0,263.1 L504.0,263.1 L505.0,263.1 L506.0,263.0 L507.0,263.0 L508.0,263.0 L509.0,263.0 L510.0,262.9 L511.0,262.9 L512.0,262.9 L513.0,262.8 L514.0,262.7 L515.0,262.7 L516.0,262.6 L517.0,262.5 L518.0,262.4 L519.0,262.3 L520.0,262.2 L521.0,262.1 L522.0,262.0 L523.0,261.9 L524.0,261.7 L525.0,261.6 L526.0,261.5 L527.0,261.3 L528.0,261.2 L529.0,261.0 L530.0,260.9 L531.0,260.7 L532.0,260.5 L533.0,260.2 L534.0,259.9 L535.0,259.7 L536.0,259.3 L537.0,259.0 L538.0,258.7 L539.0,258.3 L540.0,257.9 L541.0,257.5 L542.0,257.1 L543.0,256.7 L544.0,256.3 L545.0,255.8 L546.0,255.3 L547.0,254.7 L548.0,254.1 L549.0,253.4 L550.0,252.6 L551.0,251.7 L552.0,250.8 L553.0,249.8 L554.0,248.8 L555.0,247.8 L556.0,246.7 L557.0,245.6 L558.0,244.4 L560.2,243.6 L560.2,238.1 L563.4,238.1 L563.4,232.4 L566.7,232.4 L566.7,225.8 L569.9,225.8 L569.9,215.8 L573.2,215.8 L573.2,203.7 L576.4,203.7 L576.4,192.2 L579.7,192.2 L579.7,180.0 L582.9,180.0 L582.9,168.3 L586.2,168.3 L586.2,157.2 L589.4,157.2 L589.4,145.0 L592.7,145.0 L592.7,130.4 L595.9,130.4 L595.9,116.1 L599.2,116.1 L599.2,102.9 L602.4,102.9 L602.4,88.9 L605.7,88.9 L605.7,72.6 L605.9,72.6 L605.9,79.9"/>
<path d="M470.0,264.4 L471.0,264.4 L472.0,264.4 L473.0,264.4 L474.0,264.4 L475.0,264.4 L476.0,264.4 L477.0,264.4 L478.0,264.4 L479.0,264.4 L480.0,264.4 L481.0,264.4 L482.0,264.4 L483.0,264.3 L484.0,264.3 L485.0,264.3 L486.0,264.3 L487.0,264.3 L488.0,264.3 L489.0,264.3 L490.0,264.3 L491.0,264.2 L492.0,264.2 L493.0,264.2 L494.0,264.2 L495.0,264.2 L496.0,264.1 L497.0,264.1 L498.0,264.1 L499.0,264.1 L500.0,264.1 L501.0,264.0 L502.0,264.0 L503.0,264.0 L504.0,264.0 L505.0,264.0 L506.0,264.0 L507.0,263.9 L508.0,263.9 L509.0,263.9 L510.0,263.9 L511.0,263.8 L512.0,263.8 L513.0,263.8 L514.0,263.7 L515.0,263.6 L516.0,263.6 L517.0,263.5 L518.0,263.4 L519.0,263.3 L520.0,263.2 L521.0,263.1 L522.0,263.0 L523.0,262.9 L524.0,262.8 L525.0,262.7 L526.0,262.5 L527.0,262.4 L528.0,262.2 L529.0,262.1 L530.0,261.9 L531.0,261.7 L532.0,261.5 L533.0,261.3 L534.0,261.0 L535.0,260.8 L536.0,260.5 L537.0,260.1 L538.0,259.8 L539.0,259.4 L540.0,259.1 L541.0,258.7 L542.0,258.3 L543.0,257.9 L544.0,257.5 L545.0,257.0 L546.0,256.5 L547.0,256.0 L548.0,255.4 L549.0,254.7 L550.0,254.0 L551.0,253.1 L552.0,252.2 L553.0,251.3 L554.0,250.3 L555.0,249.3 L556.0,248.3 L557.0,247.2 L558.0,246.0 L558.3,247.5 L558.3,243.4 L561.6,243.4 L561.6,237.6 L564.8,237.6 L564.8,232.0 L568.1,232.0 L568.1,224.9 L571.3,224.9 L571.3,214.2 L574.6,214.2 L574.6,202.2 L577.8,202.2 L577.8,190.6 L581.1,190.6 L581.1,178.4 L584.3,178.4 L584.3,166.7 L587.6,166.7 L587.6,155.7 L590.8,155.7 L590.8,143.0 L594.1,143.0 L594.1,128.4 L597.3,128.4 L597.3,114.3 L600.6,114.3 L600.6,101.2 L603.8,101.2 L603.8,86.7 L605.9,86.7 L605.9,84.5"/>
<path d="M470.0,265.2 L471.0,265.2 L472.0,265.2 L473.0,265.2 L474.0,265.2 L475.0,265.2 L476.0,265.2 L477.0,265.2 L478.0,265.2 L479.0,265.2 L480.0,265.2 L481.0,265.2 L482.0,265.2 L483.0,265.2 L484.0,265.2 L485.0,265.2 L486.0,265.1 L487.0,265.1 L488.0,265.1 L489.0,265.1 L490.0,265.1 L491.0,265.1 L492.0,265.1 L493.0,265.0 L494.0,265.0 L495.0,265.0 L496.0,265.0 L497.0,265.0 L498.0,265.0 L499.0,265.0 L500.0,264.9 L501.0,264.9 L502.0,264.9 L503.0,264.9 L504.0,264.9 L505.0,264.9 L506.0,264.9 L507.0,264.8 L508.0,264.8 L509.0,264.8 L510.0,264.8 L511.0,264.8 L512.0,264.8 L513.0,264.7 L514.0,264.7 L515.0,264.6 L516.0,264.5 L517.0,264.5 L518.0,264.4 L519.0,264.3 L520.0,264.2 L521.0,264.1 L522.0,264.0 L523.0,263.9 L524.0,263.8 L525.0,263.7 L526.0,263.6 L527.0,263.4 L528.0,263.3 L529.0,263.1 L530.0,263.0 L531.0,262.8 L532.0,262.6 L533.0,262.4 L534.0,262.1 L535.0,261.9 L536.0,261.6 L537.0,261.3 L538.0,260.9 L539.0,260.6 L540.0,260.2 L541.0,259.8 L542.0,259.4 L543.0,259.0 L544.0,258.6 L545.0,258.2 L546.0,257.7 L547.0,257.2 L548.0,256.6 L549.0,256.0 L550.0,255.3 L551.0,254.5 L552.0,253.7 L553.0,252.7 L554.0,251.8 L555.0,250.7 L556.0,249.7 L557.0,248.7 L558.0,247.6 L559.0,248.3 L559.0,244.3 L562.2,244.3 L562.2,238.5 L565.5,238.5 L565.5,232.8 L568.7,232.8 L568.7,225.9 L572.0,225.9 L572.0,215.6 L575.2,215.6 L575.2,203.4 L578.5,203.4 L578.5,191.8 L581.7,191.8 L581.7,179.6 L585.0,179.6 L585.0,167.9 L588.2,167.9 L588.2,156.9 L591.5,156.9 L591.5,144.5 L594.7,144.5 L594.7,129.9 L598.0,129.9 L598.0,115.7 L601.2,115.7 L601.2,102.5 L604.5,102.5 L604.5,88.2 L605.9,88.2 L605.9,89.1"/>
<path d="M470.0,265.5 L471.0,265.5 L472.0,265.5 L473.0,265.5 L474.0,265.5 L475.0,265.5 L476.0,265.5 L477.0,265.5 L478.0,265.5 L479.0,265.5 L480.0,265.5 L481.0,265.5 L482.0,265.5 L483.0,265.5 L484.0,265.5 L485.0,265.5 L486.0,265.5 L487.0,265.5 L488.0,265.4 L489.0,265.4 L490.0,265.4 L491.0,265.4 L492.0,265.4 L493.0,265.4 L494.0,265.4 L495.0,265.3 L496.0,265.3 L497.0,265.3 L498.0,265.3 L499.0,265.3 L500.0,265.3 L501.0,265.3 L502.0,265.3 L503.0,265.2 L504.0,265.2 L505.0,265.2 L506.0,265.2 L507.0,265.2 L508.0,265.2 L509.0,265.2 L510.0,265.2 L511.0,265.1 L512.0,265.1 L513.0,265.1 L514.0,265.0 L515.0,265.0 L516.0,264.9 L517.0,264.8 L518.0,264.8 L519.0,264.7 L520.0,264.6 L521.0,264.5 L522.0,264.4 L523.0,264.3 L524.0,264.2 L525.0,264.1 L526.0,264.0 L527.0,263.8 L528.0,263.7 L529.0,263.6 L530.0,263.4 L531.0,263.2 L532.0,263.0 L533.0,262.8 L534.0,262.6 L535.0,262.3 L536.0,262.0 L537.0,261.7 L538.0,261.4 L539.0,261.0 L540.0,260.6 L541.0,260.3 L542.0,259.9 L543.0,259.5 L544.0,259.1 L545.0,258.6 L546.0,258.2 L547.0,257.7 L548.0,257.1 L549.0,256.5 L550.0,255.8 L551.0,255.0 L552.0,254.2 L553.0,253.3 L554.0,252.3 L555.0,251.3 L556.0,250.3 L557.0,249.3 L558.0,248.2 L560.5,247.2 L560.5,242.6 L563.8,242.6 L563.8,236.4 L567.0,236.4 L567.0,230.8 L570.2,230.8 L570.2,222.7 L573.5,222.7 L573.5,211.0 L576.8,211.0 L576.8,199.4 L580.0,199.4 L580.0,187.4 L583.2,187.4 L583.2,175.4 L586.5,175.4 L586.5,163.7 L589.8,163.7 L589.8,152.8 L593.0,152.8 L593.0,139.1 L596.2,139.1 L596.2,124.7 L599.5,124.7 L599.5,110.8 L602.8,110.8 L602.8,97.7 L606.0,97.7 L606.0,82.3 L605.9,82.3 L605.9,90.8"/>
<path d="M470.0,265.5 L471.0,265.5 L472.0,265.5 L473.0,265.5 L474.0,265.5 L475.0,265.5 L476.0,265.5 L477.0,265.5 L478.0,265.5 L479.0,265.5 L480.0,265.5 L481.0,265.5 L482.0,265.5 L483.0,265.5 L484.0,265.5 L485.0,265.5 L486.0,265.5 L487.0,265.5 L488.0,265.4 L489.0,265.4 L490.0,265.4 L491.0,265.4 L492.0,265.4 L493.0,265.4 L494.0,265.4 L495.0,265.3 L496.0,265.3 L497.0,265.3 L498.0,265.3 L499.0,265.3 L500.0,265.3 L501.0,265.3 L502.0,265.3 L503.0,265.2 L504.0,265.2 L505.0,265.2 L506.0,265.2 L507.0,265.2 L508.0,265.2 L509.0,265.2 L510.0,265.2 L511.0,265.1 L512.0,265.1 L513.0,265.1 L514.0,265.0 L515.0,265.0 L516.0,264.9 L517.0,264.8 L518.0,264.8 L519.0,264.7 L520.0,264.6 L521.0,264.5 L522.0,264.4 L523.0,264.3 L524.0,264.2 L525.0,264.1 L526.0,264.0 L527.0,263.8 L528.0,263.7 L529.0,263.6 L530.0,263.4 L531.0,263.2 L532.0,263.0 L533.0,262.8 L534.0,262.6 L535.0,262.3 L536.0,262.0 L537.0,261.7 L538.0,261.4 L539.0,261.0 L540.0,260.6 L541.0,260.3 L542.0,259.9 L543.0,259.5 L544.0,259.1 L545.0,258.6 L546.0,258.2 L547.0,257.7 L548.0,257.1 L549.0,256.5 L550.0,255.8 L551.0,255.0 L552.0,254.2 L553.0,253.3 L554.0,252.3 L555.0,251.3 L556.0,250.3 L557.0,249.3 L558.0,248.2 L558.4,249.6 L558.4,245.8 L561.6,245.8 L561.6,240.6 L564.9,240.6 L564.9,234.6 L568.1,234.6 L568.1,228.4 L571.4,228.4 L571.4,219.2 L574.6,219.2 L574.6,206.9 L577.9,206.9 L577.9,195.5 L581.1,195.5 L581.1,183.2 L584.4,183.2 L584.4,171.4 L587.6,171.4 L587.6,160.1 L590.9,160.1 L590.9,148.7 L594.1,148.7 L594.1,134.2 L597.4,134.2 L597.4,119.9 L600.6,119.9 L600.6,106.4 L603.9,106.4 L603.9,92.8 L605.9,92.8 L605.9,90.8"/>
<path d="M470.0,265.4 L471.0,265.4 L472.0,265.4 L473.0,265.4 L474.0,265.4 L475.0,265.4 L476.0,265.3 L477.0,265.3 L478.0,265.3 L479.0,265.3 L480.0,265.3 L481.0,265.3 L482.0,265.3 L483.0,265.3 L484.0,265.3 L485.0,265.3 L486.0,265.3 L487.0,265.3 L488.0,265.3 L489.0,265.3 L490.0,265.3 L491.0,265.2 L492.0,265.2 L493.0,265.2 L494.0,265.2 L495.0,265.2 L496.0,265.2 L497.0,265.2 L498.0,265.1 L499.0,265.1 L500.0,265.1 L501.0,265.1 L502.0,265.1 L503.0,265.1 L504.0,265.1 L505.0,265.1 L506.0,265.0 L507.0,265.0 L508.0,265.0 L509.0,265.0 L510.0,265.0 L511.0,265.0 L512.0,264.9 L513.0,264.9 L514.0,264.8 L515.0,264.8 L516.0,264.7 L517.0,264.7 L518.0,264.6 L519.0,264.5 L520.0,264.4 L521.0,264.3 L522.0,264.2 L523.0,264.1 L524.0,264.0 L525.0,263.9 L526.0,263.8 L527.0,263.6 L528.0,263.5 L529.0,263.3 L530.0,263.2 L531.0,263.0 L532.0,262.8 L533.0,262.6 L534.0,262.4 L535.0,262.1 L536.0,261.8 L537.0,261.5 L538.0,261.1 L539.0,260.8 L540.0,260.4 L541.0,260.0 L542.0,259.7 L543.0,259.3 L544.0,258.8 L545.0,258.4 L546.0,257.9 L547.0,257.4 L548.0,256.9 L549.0,256.2 L550.0,255.5 L551.0,254.8 L552.0,253.9 L553.0,253.0 L554.0,252.0 L555.0,251.0 L556.0,250.0 L557.0,249.0 L558.0,247.9 L559.5,248.1 L559.5,243.9 L562.7,243.9 L562.7,238.0 L566.0,238.0 L566.0,232.4 L569.2,232.4 L569.2,225.2 L572.5,225.2 L572.5,214.4 L575.7,214.4 L575.7,202.4 L579.0,202.4 L579.0,190.7 L582.2,190.7 L582.2,178.5 L585.5,178.5 L585.5,166.8 L588.7,166.8 L588.7,155.8 L592.0,155.8 L592.0,143.1 L595.2,143.1 L595.2,128.5 L598.5,128.5 L598.5,114.4 L601.7,114.4 L601.7,101.3 L605.0,101.3 L605.0,86.7 L605.9,86.7 L605.9,89.9"/>
<path d="M606.2,18.6 L606.2,29.5 L603.2,29.5 L603.2,44.5 L606.0,44.5"/>
</g>
<g stroke="#111" stroke-width="1.2" fill="#000">
<line x1="102.9" y1="112.8" x2="104.7" y2="243.5"/>
<polygon points="99.9,242.8 109.7,242.8 104.75,252.2" stroke="none"/>
</g>
<rect x="82.1" y="4.6" width="550.9" height="358.2" fill="none" stroke="#151515" stroke-width="1.65"/>
<g stroke="#151515" stroke-width="1.65"><line x1="106.6" y1="362.8" x2="106.6" y2="369.5"/><line x1="169.1" y1="362.8" x2="169.1" y2="369.5"/><line x1="231.5" y1="362.8" x2="231.5" y2="369.5"/><line x1="294.0" y1="362.8" x2="294.0" y2="369.5"/><line x1="356.4" y1="362.8" x2="356.4" y2="369.5"/><line x1="418.9" y1="362.8" x2="418.9" y2="369.5"/><line x1="481.3" y1="362.8" x2="481.3" y2="369.5"/><line x1="543.8" y1="362.8" x2="543.8" y2="369.5"/><line x1="606.2" y1="362.8" x2="606.2" y2="369.5"/><line x1="76.1" y1="20.9" x2="82.1" y2="20.9"/><line x1="76.1" y1="70.5" x2="82.1" y2="70.5"/><line x1="76.1" y1="120.1" x2="82.1" y2="120.1"/><line x1="76.1" y1="169.6" x2="82.1" y2="169.6"/><line x1="76.1" y1="219.2" x2="82.1" y2="219.2"/><line x1="76.1" y1="268.8" x2="82.1" y2="268.8"/><line x1="76.1" y1="318.3" x2="82.1" y2="318.3"/></g>
<g class="tl"><text transform="translate(105.2,387.9) scale(0.92,1)" text-anchor="middle">−0.2</text><text transform="translate(169.1,387.9) scale(0.92,1)" text-anchor="middle">0.0</text><text transform="translate(231.5,387.9) scale(0.92,1)" text-anchor="middle">0.2</text><text transform="translate(294.0,387.9) scale(0.92,1)" text-anchor="middle">0.4</text><text transform="translate(356.4,387.9) scale(0.92,1)" text-anchor="middle">0.6</text><text transform="translate(418.9,387.9) scale(0.92,1)" text-anchor="middle">0.8</text><text transform="translate(479.5,387.9) scale(0.92,1)" text-anchor="middle">1.0</text><text transform="translate(542.0,387.9) scale(0.92,1)" text-anchor="middle">1.2</text><text transform="translate(604.4,387.9) scale(0.92,1)" text-anchor="middle">1.4</text><text transform="translate(67.7,27.9) scale(0.92,1)" text-anchor="end">1.2</text><text transform="translate(68.0,77.3) scale(0.92,1)" text-anchor="end">1.0</text><text transform="translate(69.6,126.8) scale(0.92,1)" text-anchor="end">0.8</text><text transform="translate(67.9,176.4) scale(0.92,1)" text-anchor="end">0.5</text><text transform="translate(67.7,226.1) scale(0.92,1)" text-anchor="end">0.2</text><text transform="translate(69.6,274.3) scale(0.92,1)" text-anchor="end">0.0</text><text transform="translate(69.3,323.4) scale(0.92,1)" text-anchor="end">-0.2</text></g>
<text class="al" x="355.9" y="414.2" text-anchor="middle" textLength="133.4" lengthAdjust="spacingAndGlyphs">Potential (V)</text>
<text class="al" transform="translate(22.3,186.0) rotate(-90)" text-anchor="middle" textLength="139.5" lengthAdjust="spacingAndGlyphs">Current (mA)</text>
</g>
</svg>
</body></html>
